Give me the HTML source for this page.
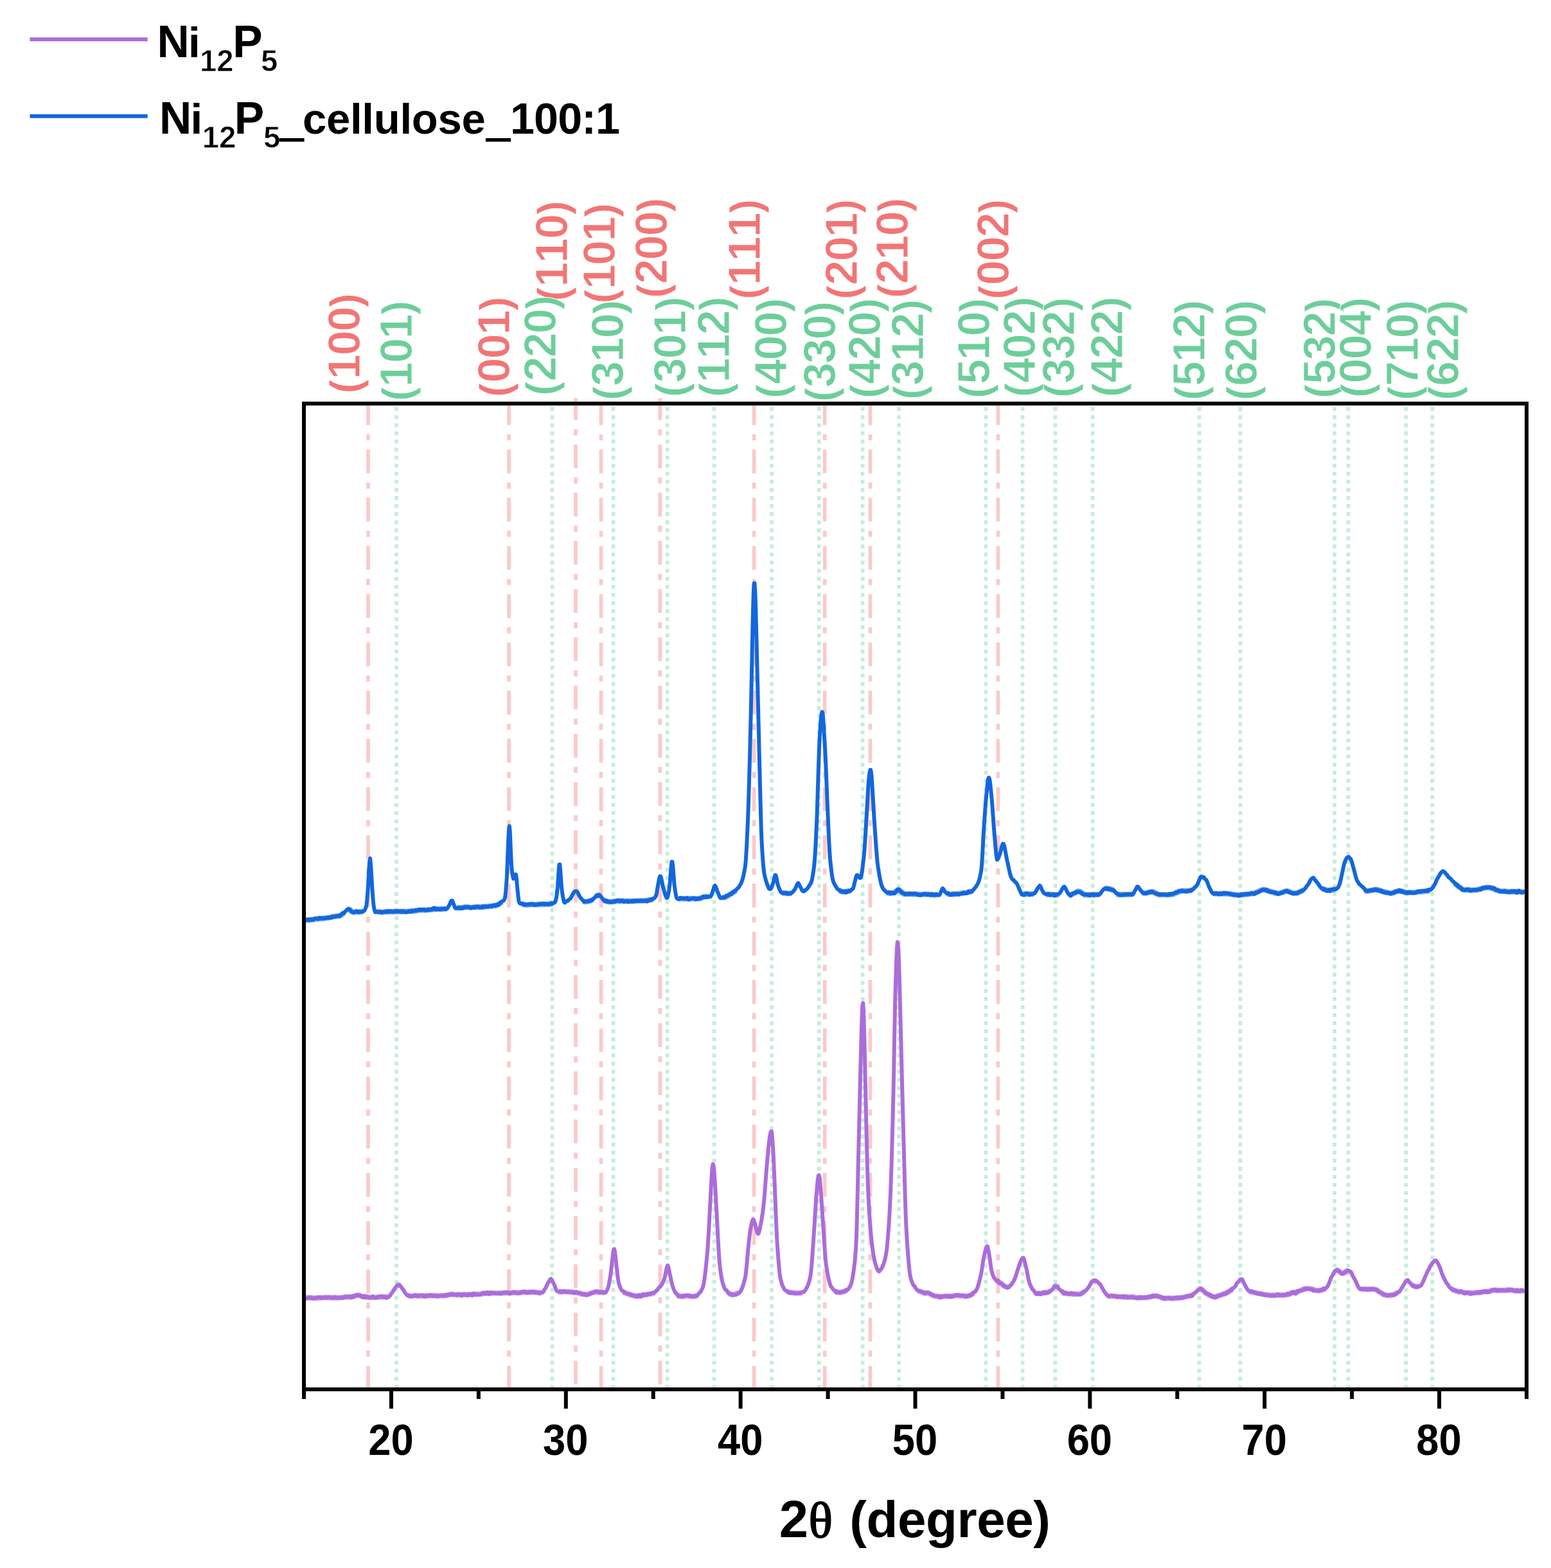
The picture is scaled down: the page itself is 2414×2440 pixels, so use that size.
<!DOCTYPE html>
<html lang="en">
<head>
<meta charset="utf-8">
<title>XRD patterns</title>
<style>
html,body{margin:0;padding:0;background:#fff;}
body{width:2414px;height:2440px;overflow:hidden;}
svg{display:block;}
text{font-family:"Liberation Sans",Arial,Helvetica,sans-serif;font-weight:700;font-size:67px;fill:#000;font-kerning:none;}
.tk{text-anchor:middle;}
.sub{font-size:47.3px;stroke:#fff;stroke-width:0.8px;}
.cap{font-size:69.5px;}
.dg{font-size:68.2px;letter-spacing:-0.85px;}
.lc{letter-spacing:-0.26px;}
.us{font-size:63px;stroke:#000;stroke-width:3px;}
.hr{fill:#f27575;stroke:#fff;stroke-width:1px;}
.hg{fill:#6dce9a;stroke:#fff;stroke-width:1px;}
.hd{font-size:69.7px;letter-spacing:-1.5px;}
.ttl{font-size:80px;}
.t2{font-size:81.4px;}
.tw{letter-spacing:-0.42px;}
.th{font-family:"Liberation Serif","DejaVu Serif",serif;font-size:78px;font-weight:400;stroke:#000;stroke-width:1.8px;}
.rv{stroke:#fcc9c9;stroke-width:5.7;fill:none;stroke-dasharray:37 14.4 9.45 14.2;}
.gv{stroke:#c3eddb;stroke-width:5.7;fill:none;stroke-dasharray:6 6.575;}
.cv{fill:none;stroke-linejoin:round;stroke-linecap:butt;}
</style>
</head>
<body>
<svg width="2414" height="2440" viewBox="0 0 2414 2440">
<rect x="0" y="0" width="2414" height="2440" fill="#fff"/>
<g id="fig">
<g id="ref-red">
<line class="rv" x1="573.0" y1="625.0" x2="573.0" y2="2159.5" stroke-dashoffset="0.5"/>
<line class="rv" x1="792.0" y1="625.0" x2="792.0" y2="2159.5" stroke-dashoffset="0.5"/>
<line class="rv" x1="896.0" y1="619.4" x2="896.0" y2="2154.2" stroke-dashoffset="2.8"/>
<line class="rv" x1="935.5" y1="625.0" x2="935.5" y2="2159.5" stroke-dashoffset="0.5"/>
<line class="rv" x1="1027.4" y1="619.4" x2="1027.4" y2="2154.2" stroke-dashoffset="2.8"/>
<line class="rv" x1="1173.6" y1="625.0" x2="1173.6" y2="2159.5" stroke-dashoffset="0.5"/>
<line class="rv" x1="1283.6" y1="625.0" x2="1283.6" y2="2159.5" stroke-dashoffset="0.5"/>
<line class="rv" x1="1354.4" y1="625.0" x2="1354.4" y2="2159.5" stroke-dashoffset="0.5"/>
<line class="rv" x1="1553.4" y1="625.0" x2="1553.4" y2="2159.5" stroke-dashoffset="0.5"/>
</g>
<g id="ref-green">
<line class="gv" x1="617.0" y1="633.6" x2="617.0" y2="2159.5"/>
<line class="gv" x1="859.4" y1="633.6" x2="859.4" y2="2159.5"/>
<line class="gv" x1="954.6" y1="633.6" x2="954.6" y2="2159.5"/>
<line class="gv" x1="1038.7" y1="633.6" x2="1038.7" y2="2159.5"/>
<line class="gv" x1="1111.6" y1="633.6" x2="1111.6" y2="2159.5"/>
<line class="gv" x1="1201.2" y1="633.6" x2="1201.2" y2="2159.5"/>
<line class="gv" x1="1274.8" y1="633.6" x2="1274.8" y2="2159.5"/>
<line class="gv" x1="1342.6" y1="633.6" x2="1342.6" y2="2159.5"/>
<line class="gv" x1="1399.1" y1="633.6" x2="1399.1" y2="2159.5"/>
<line class="gv" x1="1534.3" y1="633.6" x2="1534.3" y2="2159.5"/>
<line class="gv" x1="1591.6" y1="633.6" x2="1591.6" y2="2159.5"/>
<line class="gv" x1="1642.5" y1="633.6" x2="1642.5" y2="2159.5"/>
<line class="gv" x1="1700.6" y1="633.6" x2="1700.6" y2="2159.5"/>
<line class="gv" x1="1866.6" y1="633.6" x2="1866.6" y2="2159.5"/>
<line class="gv" x1="1930.4" y1="633.6" x2="1930.4" y2="2159.5"/>
<line class="gv" x1="2077.1" y1="633.6" x2="2077.1" y2="2159.5"/>
<line class="gv" x1="2098.4" y1="633.6" x2="2098.4" y2="2159.5"/>
<line class="gv" x1="2188.3" y1="633.6" x2="2188.3" y2="2159.5"/>
<line class="gv" x1="2229.3" y1="633.6" x2="2229.3" y2="2159.5"/>
</g>
<g id="curves">
<path class="cv" stroke="#ab6cdb" stroke-width="8.6" stroke-opacity="0.55" stroke-linecap="round" d="M476.0,2019.4 478.4,2019.5 480.8,2019.5 483.2,2019.4 485.6,2019.6 488.0,2019.9 490.4,2020.0 492.8,2020.0 495.2,2019.9 497.6,2019.7 500.0,2019.5 502.4,2019.3 504.8,2019.0 507.2,2019.0 509.6,2019.3 512.0,2019.5 514.4,2019.3 516.8,2019.1 519.2,2019.1 521.6,2019.4 524.0,2019.5 526.4,2019.5 528.8,2019.4 531.2,2019.2 533.6,2018.8 536.0,2018.3 538.4,2018.1 540.8,2018.2 543.2,2018.3 545.6,2018.1 548.0,2017.8 550.4,2017.2 552.8,2016.4 555.2,2015.7 557.6,2015.5 560.0,2016.1 562.4,2017.1 564.8,2017.6 567.2,2017.6 569.6,2017.9 572.0,2018.4 574.4,2018.7 576.8,2018.8 579.2,2018.8 581.6,2018.8 584.0,2018.8 586.4,2018.7 588.8,2018.6 591.2,2018.4 593.6,2018.2 596.0,2018.1 598.4,2018.1 600.8,2018.1 603.2,2018.0 605.6,2017.3 M617.6,2001.2 620.0,1999.6 622.4,2000.5 M634.4,2015.9 636.8,2016.4 639.2,2016.7 641.6,2016.7 644.0,2016.3 646.4,2016.1 648.8,2016.1 651.2,2016.4 653.6,2016.6 656.0,2016.7 658.4,2016.8 660.8,2016.8 663.2,2016.7 665.6,2016.5 668.0,2016.3 670.4,2016.1 672.8,2016.0 675.2,2015.9 677.6,2016.0 680.0,2016.2 682.4,2016.3 684.8,2016.2 687.2,2016.2 689.6,2016.3 692.0,2016.3 694.4,2015.9 696.8,2015.2 699.2,2014.5 701.6,2014.1 704.0,2014.1 706.4,2014.5 708.8,2014.8 711.2,2014.9 713.6,2014.9 716.0,2014.8 718.4,2014.8 720.8,2014.8 723.2,2014.8 725.6,2014.7 728.0,2014.6 730.4,2014.5 732.8,2014.4 735.2,2014.2 737.6,2013.9 740.0,2013.8 742.4,2013.8 744.8,2013.8 747.2,2013.7 749.6,2013.4 752.0,2013.0 754.4,2012.7 756.8,2012.5 759.2,2012.3 761.6,2012.3 764.0,2012.3 766.4,2012.2 768.8,2012.3 771.2,2012.3 773.6,2012.3 776.0,2012.3 778.4,2012.3 780.8,2012.2 783.2,2012.0 785.6,2011.8 788.0,2011.9 790.4,2012.1 792.8,2012.1 795.2,2012.0 797.6,2011.6 800.0,2011.4 802.4,2011.4 804.8,2011.5 807.2,2011.6 809.6,2011.6 812.0,2011.3 814.4,2010.9 816.8,2010.8 819.2,2010.9 821.6,2010.9 824.0,2010.9 826.4,2010.9 828.8,2010.8 831.2,2010.8 833.6,2010.9 836.0,2011.2 838.4,2011.5 840.8,2011.8 843.2,2011.7 M869.6,2009.9 872.0,2010.1 874.4,2010.1 876.8,2010.1 879.2,2010.0 881.6,2010.0 884.0,2010.1 886.4,2010.3 888.8,2010.6 891.2,2010.9 893.6,2011.1 896.0,2011.2 898.4,2011.6 900.8,2012.1 903.2,2012.8 905.6,2013.6 908.0,2014.1 910.4,2014.4 912.8,2014.5 915.2,2014.1 917.6,2013.2 920.0,2012.2 922.4,2011.6 924.8,2011.1 927.2,2010.7 929.6,2010.6 932.0,2010.7 934.4,2010.9 936.8,2011.1 939.2,2011.3 941.6,2011.4 M970.4,2010.2 972.8,2011.9 975.2,2012.9 977.6,2013.6 980.0,2014.3 982.4,2015.0 984.8,2015.6 987.2,2016.3 989.6,2016.8 992.0,2016.9 994.4,2016.7 996.8,2016.5 999.2,2016.0 1001.6,2015.4 1004.0,2014.8 1006.4,2014.4 1008.8,2014.0 1011.2,2013.7 1013.6,2013.3 1016.0,2012.7 1018.4,2011.4 M1054.4,2014.8 1056.8,2016.6 1059.2,2017.2 1061.6,2017.1 1064.0,2016.9 1066.4,2016.7 1068.8,2016.4 1071.2,2016.5 1073.6,2016.9 1076.0,2017.3 1078.4,2017.5 1080.8,2017.3 1083.2,2016.8 1085.6,2015.4 M1133.6,2011.1 1136.0,2013.3 1138.4,2014.7 1140.8,2014.8 1143.2,2014.2 1145.6,2013.3 1148.0,2012.3 1150.4,2011.0 M1224.8,2009.6 1227.2,2010.5 1229.6,2011.1 1232.0,2011.5 1234.4,2011.7 1236.8,2011.8 1239.2,2012.0 1241.6,2012.0 1244.0,2011.9 1246.4,2011.9 1248.8,2011.7 M1299.2,2008.4 1301.6,2010.1 1304.0,2011.0 1306.4,2011.3 1308.8,2011.0 1311.2,2010.4 1313.6,2009.6 1316.0,2008.7 1318.4,2007.5 M1428.8,2008.3 1431.2,2009.4 1433.6,2010.4 1436.0,2011.3 1438.4,2012.0 1440.8,2012.2 1443.2,2012.3 1445.6,2012.7 1448.0,2013.7 1450.4,2014.9 1452.8,2016.0 1455.2,2016.8 1457.6,2017.4 1460.0,2017.7 1462.4,2017.7 1464.8,2017.6 1467.2,2017.5 1469.6,2017.3 1472.0,2017.1 1474.4,2017.1 1476.8,2017.1 1479.2,2016.9 1481.6,2016.7 1484.0,2016.5 1486.4,2016.2 1488.8,2016.1 1491.2,2016.1 1493.6,2016.1 1496.0,2016.3 1498.4,2016.6 1500.8,2017.0 1503.2,2017.1 1505.6,2016.8 1508.0,2016.4 1510.4,2015.6 1512.8,2014.1 1515.2,2012.3 M1551.2,1992.5 1553.6,1994.1 1556.0,1995.9 1558.4,1997.7 1560.8,1999.6 1563.2,2001.2 1565.6,2002.4 1568.0,2002.9 1570.4,2002.7 M1611.2,2011.9 1613.6,2012.6 1616.0,2012.7 1618.4,2012.6 1620.8,2012.3 1623.2,2011.9 1625.6,2011.6 1628.0,2011.7 1630.4,2011.3 1632.8,2010.0 1635.2,2008.2 M1640.0,2003.5 1642.4,2001.4 1644.8,2001.6 1647.2,2004.0 M1652.0,2009.0 1654.4,2010.9 1656.8,2012.2 1659.2,2012.6 1661.6,2012.9 1664.0,2013.1 1666.4,2013.2 1668.8,2013.4 1671.2,2013.6 1673.6,2013.7 1676.0,2013.7 1678.4,2013.8 1680.8,2013.5 1683.2,2012.8 1685.6,2011.4 1688.0,2009.5 M1702.4,1992.7 1704.8,1993.7 1707.2,1994.9 M1724.0,2016.4 1726.4,2017.1 1728.8,2017.1 1731.2,2017.0 1733.6,2017.0 1736.0,2017.2 1738.4,2017.6 1740.8,2017.8 1743.2,2017.9 1745.6,2018.0 1748.0,2018.0 1750.4,2018.2 1752.8,2018.4 1755.2,2018.5 1757.6,2018.5 1760.0,2018.4 1762.4,2018.4 1764.8,2018.5 1767.2,2018.8 1769.6,2019.2 1772.0,2019.4 1774.4,2019.4 1776.8,2019.2 1779.2,2019.2 1781.6,2019.2 1784.0,2019.3 1786.4,2019.0 1788.8,2018.4 1791.2,2017.7 1793.6,2017.1 1796.0,2016.8 1798.4,2016.5 1800.8,2016.7 1803.2,2017.4 1805.6,2018.4 1808.0,2019.4 1810.4,2020.3 1812.8,2020.8 1815.2,2020.6 1817.6,2020.3 1820.0,2020.1 1822.4,2020.2 1824.8,2020.4 1827.2,2020.5 1829.6,2020.2 1832.0,2019.9 1834.4,2019.7 1836.8,2019.5 1839.2,2019.1 1841.6,2018.5 1844.0,2018.1 1846.4,2017.7 1848.8,2017.3 1851.2,2016.7 1853.6,2016.0 1856.0,2014.9 1858.4,2013.1 M1865.6,2006.7 1868.0,2005.4 1870.4,2006.5 1872.8,2008.8 1875.2,2010.8 1877.6,2012.8 1880.0,2014.2 1882.4,2015.4 1884.8,2016.6 1887.2,2017.7 1889.6,2018.1 1892.0,2017.9 1894.4,2017.1 1896.8,2016.3 1899.2,2015.5 1901.6,2014.7 1904.0,2014.0 1906.4,2013.1 1908.8,2011.9 1911.2,2010.6 1913.6,2009.2 1916.0,2007.6 1918.4,2005.7 M1944.8,2009.3 1947.2,2010.2 1949.6,2010.9 1952.0,2011.5 1954.4,2012.1 1956.8,2012.5 1959.2,2012.8 1961.6,2013.1 1964.0,2013.6 1966.4,2014.1 1968.8,2014.4 1971.2,2014.7 1973.6,2015.2 1976.0,2015.7 1978.4,2015.9 1980.8,2015.6 1983.2,2015.3 1985.6,2015.1 1988.0,2015.1 1990.4,2015.1 1992.8,2015.1 1995.2,2015.2 1997.6,2015.3 2000.0,2015.1 2002.4,2014.7 2004.8,2014.0 2007.2,2013.2 2009.6,2012.4 2012.0,2012.1 2014.4,2011.8 2016.8,2011.3 2019.2,2010.4 2021.6,2009.4 2024.0,2008.4 2026.4,2007.2 2028.8,2006.1 2031.2,2005.4 2033.6,2005.1 2036.0,2005.1 2038.4,2005.3 2040.8,2005.8 2043.2,2006.4 2045.6,2007.2 2048.0,2007.9 2050.4,2008.3 2052.8,2008.2 2055.2,2007.8 2057.6,2007.2 2060.0,2006.4 2062.4,2005.3 M2079.2,1976.6 2081.6,1976.8 2084.0,1978.3 2086.4,1980.1 2088.8,1981.3 2091.2,1981.0 2093.6,1979.5 2096.0,1977.8 2098.4,1977.0 M2117.6,2006.0 2120.0,2006.2 2122.4,2006.3 2124.8,2006.2 2127.2,2006.1 2129.6,2006.1 2132.0,2006.2 2134.4,2006.1 2136.8,2006.0 2139.2,2006.3 2141.6,2007.0 2144.0,2008.3 2146.4,2010.0 2148.8,2011.7 2151.2,2013.1 2153.6,2014.3 2156.0,2015.1 2158.4,2015.6 2160.8,2015.8 2163.2,2015.7 2165.6,2015.4 2168.0,2014.8 2170.4,2014.0 2172.8,2012.7 2175.2,2011.2 M2196.8,1998.5 2199.2,2000.5 2201.6,2001.5 2204.0,2001.8 2206.4,2002.0 2208.8,2001.9 M2259.2,2005.5 2261.6,2007.0 2264.0,2008.1 2266.4,2008.9 2268.8,2009.5 2271.2,2009.9 2273.6,2010.4 2276.0,2010.8 2278.4,2011.3 2280.8,2011.6 2283.2,2011.7 2285.6,2011.8 2288.0,2011.7 2290.4,2011.8 2292.8,2011.9 2295.2,2011.8 2297.6,2011.6 2300.0,2011.4 2302.4,2011.3 2304.8,2011.1 2307.2,2010.8 2309.6,2010.3 2312.0,2009.9 2314.4,2009.7 2316.8,2009.4 2319.2,2008.8 2321.6,2008.2 2324.0,2007.7 2326.4,2007.7 2328.8,2007.9 2331.2,2007.9 2333.6,2008.0 2336.0,2008.0 2338.4,2008.0 2340.8,2007.9 2343.2,2007.7 2345.6,2007.5 2348.0,2007.5 2350.4,2007.6 2352.8,2007.8 2355.2,2008.1 2357.6,2008.4 2360.0,2008.6 2362.4,2008.7 2364.8,2008.7 2367.2,2008.6 2369.6,2008.6 2372.0,2008.6"/>
<path id="c-ni12p5" class="cv" stroke="#ab6cdb" stroke-width="6" d="M476.0,2019.8 476.8,2020.4 477.6,2020.3 478.4,2019.5 479.2,2019.1 480.0,2019.3 480.8,2019.6 481.6,2019.7 482.4,2019.3 483.2,2019.1 484.0,2019.8 484.8,2020.0 485.6,2019.9 486.4,2019.7 487.2,2019.7 488.0,2020.2 488.8,2020.4 489.6,2020.1 490.4,2020.1 491.2,2020.2 492.0,2019.4 492.8,2019.2 493.6,2019.6 494.4,2019.2 495.2,2018.6 496.0,2018.8 496.8,2019.0 497.6,2018.7 498.4,2018.7 499.2,2019.5 500.0,2019.9 500.8,2019.4 501.6,2019.1 502.4,2019.5 503.2,2019.6 504.0,2019.3 504.8,2019.5 505.6,2019.6 506.4,2018.9 507.2,2018.6 508.0,2019.1 508.8,2019.6 509.6,2019.6 510.4,2018.8 511.2,2018.6 512.0,2018.5 512.8,2018.4 513.6,2019.2 514.4,2019.4 515.2,2019.3 516.0,2019.9 516.8,2020.0 517.6,2019.7 518.4,2019.7 519.2,2019.4 520.0,2018.9 520.8,2019.4 521.6,2019.4 522.4,2018.8 523.2,2019.2 524.0,2019.7 524.8,2019.8 525.6,2019.5 526.4,2019.4 527.2,2019.4 528.0,2019.2 528.8,2019.4 529.6,2019.5 530.4,2019.4 531.2,2019.3 532.0,2019.7 532.8,2019.5 533.6,2019.0 534.4,2019.2 535.2,2019.7 536.0,2019.1 536.8,2018.1 537.6,2018.3 538.4,2018.5 539.2,2017.9 540.0,2017.9 540.8,2018.2 541.6,2018.0 542.4,2018.5 543.2,2018.7 544.0,2017.7 544.8,2017.4 545.6,2017.5 546.4,2018.2 547.2,2019.2 548.0,2018.7 548.8,2017.2 549.6,2016.9 550.4,2017.7 551.2,2017.9 552.0,2017.0 552.8,2016.2 553.6,2016.1 554.4,2015.9 555.2,2015.4 556.0,2015.2 556.8,2015.6 557.6,2015.7 558.4,2015.6 559.2,2015.4 560.0,2015.4 560.8,2016.2 561.6,2017.2 562.4,2017.0 563.2,2017.0 564.0,2018.0 564.8,2018.7 565.6,2018.8 566.4,2018.0 567.2,2017.0 568.0,2017.2 568.8,2018.7 569.6,2019.3 570.4,2018.1 571.2,2017.9 572.0,2018.4 572.8,2018.2 573.6,2018.3 574.4,2018.6 575.2,2019.1 576.0,2019.4 576.8,2019.3 577.6,2019.1 578.4,2018.9 579.2,2018.3 580.0,2017.4 580.8,2017.7 581.6,2018.7 582.4,2018.8 583.2,2019.0 584.0,2019.5 584.8,2019.7 585.6,2019.7 586.4,2019.4 587.2,2018.7 588.0,2018.1 588.8,2018.0 589.6,2017.8 590.4,2017.7 591.2,2017.8 592.0,2018.2 592.8,2018.3 593.6,2017.6 594.4,2017.1 595.2,2017.7 596.0,2018.5 596.8,2018.8 597.6,2018.5 598.4,2017.7 599.2,2018.1 600.0,2019.1 600.8,2019.4 601.6,2019.6 602.4,2019.3 603.2,2018.2 604.0,2018.1 604.8,2018.2 605.6,2017.6 606.4,2016.8 607.2,2015.8 608.0,2014.5 608.8,2013.2 609.6,2012.2 610.4,2011.3 611.2,2010.1 612.0,2008.8 612.8,2007.5 613.6,2006.2 614.4,2004.9 615.2,2003.9 616.0,2002.9 616.8,2001.8 617.6,2000.9 618.4,2000.3 619.2,2000.0 620.0,1999.8 620.8,1999.5 621.6,1999.6 622.4,2000.4 623.2,2001.1 624.0,2002.0 624.8,2003.2 625.6,2004.3 626.4,2005.3 627.2,2006.3 628.0,2007.4 628.8,2008.9 629.6,2010.7 630.4,2011.8 631.2,2012.7 632.0,2013.7 632.8,2014.7 633.6,2015.7 634.4,2015.7 635.2,2016.0 636.0,2016.3 636.8,2015.9 637.6,2016.5 638.4,2017.3 639.2,2017.2 640.0,2017.2 640.8,2017.3 641.6,2017.0 642.4,2016.7 643.2,2016.6 644.0,2016.4 644.8,2016.1 645.6,2016.2 646.4,2015.8 647.2,2015.5 648.0,2016.4 648.8,2017.3 649.6,2017.0 650.4,2016.5 651.2,2016.5 652.0,2016.4 652.8,2016.4 653.6,2016.1 654.4,2015.6 655.2,2016.0 656.0,2016.1 656.8,2015.8 657.6,2015.5 658.4,2015.4 659.2,2016.2 660.0,2017.4 660.8,2017.8 661.6,2017.4 662.4,2017.2 663.2,2016.3 664.0,2015.7 664.8,2016.3 665.6,2016.6 666.4,2016.4 667.2,2016.5 668.0,2016.4 668.8,2015.6 669.6,2015.2 670.4,2015.6 671.2,2015.8 672.0,2016.0 672.8,2016.8 673.6,2016.9 674.4,2016.3 675.2,2016.3 676.0,2016.7 676.8,2016.8 677.6,2016.6 678.4,2016.3 679.2,2016.9 680.0,2017.6 680.8,2017.0 681.6,2016.3 682.4,2016.7 683.2,2017.1 684.0,2016.6 684.8,2016.4 685.6,2016.5 686.4,2016.1 687.2,2016.2 688.0,2016.1 688.8,2016.0 689.6,2016.7 690.4,2016.5 691.2,2016.0 692.0,2016.2 692.8,2015.7 693.6,2014.9 694.4,2015.2 695.2,2015.8 696.0,2015.8 696.8,2015.4 697.6,2015.1 698.4,2014.9 699.2,2014.8 700.0,2014.9 700.8,2014.6 701.6,2014.4 702.4,2014.1 703.2,2013.5 704.0,2013.9 704.8,2014.9 705.6,2014.8 706.4,2014.5 707.2,2014.6 708.0,2014.6 708.8,2014.7 709.6,2014.7 710.4,2014.5 711.2,2014.6 712.0,2015.1 712.8,2014.6 713.6,2013.9 714.4,2014.3 715.2,2014.6 716.0,2014.5 716.8,2014.4 717.6,2015.6 718.4,2016.3 719.2,2015.1 720.0,2014.5 720.8,2014.7 721.6,2014.3 722.4,2013.6 723.2,2013.9 724.0,2014.7 724.8,2015.2 725.6,2015.3 726.4,2014.8 727.2,2015.3 728.0,2015.9 728.8,2014.7 729.6,2013.9 730.4,2014.3 731.2,2014.7 732.0,2014.9 732.8,2014.5 733.6,2014.0 734.4,2014.8 735.2,2015.8 736.0,2014.7 736.8,2012.9 737.6,2012.9 738.4,2013.5 739.2,2013.9 740.0,2014.3 740.8,2014.9 741.6,2014.9 742.4,2014.5 743.2,2014.1 744.0,2013.9 744.8,2014.3 745.6,2014.7 746.4,2014.3 747.2,2014.0 748.0,2014.2 748.8,2013.9 749.6,2013.2 750.4,2012.7 751.2,2012.5 752.0,2011.9 752.8,2011.6 753.6,2012.7 754.4,2013.2 755.2,2012.9 756.0,2013.1 756.8,2013.0 757.6,2012.1 758.4,2011.2 759.2,2011.7 760.0,2012.9 760.8,2013.7 761.6,2013.9 762.4,2013.1 763.2,2011.5 764.0,2011.0 764.8,2012.0 765.6,2012.6 766.4,2012.7 767.2,2012.5 768.0,2012.0 768.8,2011.7 769.6,2012.0 770.4,2012.3 771.2,2012.5 772.0,2012.6 772.8,2012.5 773.6,2012.5 774.4,2012.6 775.2,2012.8 776.0,2012.6 776.8,2012.0 777.6,2012.3 778.4,2013.0 779.2,2012.9 780.0,2012.8 780.8,2012.5 781.6,2011.8 782.4,2011.6 783.2,2011.9 784.0,2012.2 784.8,2011.9 785.6,2011.2 786.4,2011.2 787.2,2012.0 788.0,2012.1 788.8,2011.3 789.6,2011.5 790.4,2012.0 791.2,2012.1 792.0,2012.1 792.8,2012.6 793.6,2013.0 794.4,2012.7 795.2,2012.3 796.0,2011.9 796.8,2011.6 797.6,2011.6 798.4,2011.3 799.2,2011.0 800.0,2011.1 800.8,2011.4 801.6,2011.7 802.4,2011.4 803.2,2011.5 804.0,2012.3 804.8,2012.6 805.6,2012.5 806.4,2012.2 807.2,2011.6 808.0,2011.3 808.8,2011.6 809.6,2012.0 810.4,2011.4 811.2,2010.7 812.0,2010.5 812.8,2010.5 813.6,2010.5 814.4,2010.1 815.2,2010.0 816.0,2010.6 816.8,2010.4 817.6,2010.2 818.4,2011.3 819.2,2011.7 820.0,2011.1 820.8,2011.3 821.6,2010.9 822.4,2010.5 823.2,2010.4 824.0,2010.5 824.8,2011.3 825.6,2011.3 826.4,2010.6 827.2,2010.2 828.0,2010.0 828.8,2010.5 829.6,2010.7 830.4,2010.0 831.2,2010.2 832.0,2011.0 832.8,2011.7 833.6,2011.7 834.4,2010.9 835.2,2010.7 836.0,2011.1 836.8,2011.1 837.6,2011.4 838.4,2012.3 839.2,2012.7 840.0,2012.2 840.8,2011.9 841.6,2011.6 842.4,2011.1 843.2,2011.0 844.0,2011.2 844.8,2011.2 845.6,2010.1 846.4,2008.6 847.2,2007.1 848.0,2005.9 848.8,2005.2 849.6,2003.7 850.4,2001.7 851.2,2000.0 852.0,1998.2 852.8,1996.5 853.6,1995.4 854.4,1994.1 855.2,1992.6 856.0,1991.4 856.8,1990.6 857.6,1990.0 858.4,1991.2 859.2,1992.6 860.0,1994.1 860.8,1995.7 861.6,1997.0 862.4,1998.6 863.2,2000.7 864.0,2002.9 864.8,2005.0 865.6,2006.8 866.4,2008.4 867.2,2009.4 868.0,2009.6 868.8,2009.5 869.6,2009.9 870.4,2010.5 871.2,2010.3 872.0,2009.6 872.8,2009.7 873.6,2010.6 874.4,2010.7 875.2,2010.2 876.0,2009.9 876.8,2009.4 877.6,2009.1 878.4,2009.5 879.2,2010.1 880.0,2010.1 880.8,2009.9 881.6,2010.4 882.4,2010.6 883.2,2010.6 884.0,2010.6 884.8,2010.2 885.6,2010.2 886.4,2010.5 887.2,2010.7 888.0,2010.6 888.8,2010.5 889.6,2010.9 890.4,2010.7 891.2,2010.3 892.0,2010.4 892.8,2011.3 893.6,2012.1 894.4,2012.1 895.2,2011.4 896.0,2010.5 896.8,2010.5 897.6,2010.8 898.4,2011.3 899.2,2012.1 900.0,2012.3 900.8,2012.3 901.6,2012.3 902.4,2012.0 903.2,2012.0 904.0,2012.6 904.8,2013.4 905.6,2014.0 906.4,2014.4 907.2,2014.3 908.0,2013.5 908.8,2013.6 909.6,2013.9 910.4,2013.7 911.2,2014.1 912.0,2015.1 912.8,2015.5 913.6,2015.2 914.4,2014.5 915.2,2014.2 916.0,2014.2 916.8,2013.7 917.6,2013.6 918.4,2013.5 919.2,2012.5 920.0,2011.9 920.8,2012.0 921.6,2012.1 922.4,2012.0 923.2,2011.7 924.0,2011.1 924.8,2010.2 925.6,2010.1 926.4,2010.4 927.2,2009.9 928.0,2009.4 928.8,2009.5 929.6,2009.8 930.4,2010.1 931.2,2010.2 932.0,2011.0 932.8,2011.6 933.6,2011.5 934.4,2011.6 935.2,2011.2 936.0,2010.5 936.8,2010.5 937.6,2010.8 938.4,2011.1 939.2,2011.2 940.0,2011.8 940.8,2011.5 941.6,2010.8 942.4,2011.3 943.2,2010.7 944.0,2009.2 944.8,2007.6 945.6,2005.8 946.4,2003.9 947.2,2001.0 948.0,1997.1 948.8,1992.6 949.6,1987.7 950.4,1982.5 951.2,1976.2 952.0,1969.3 952.8,1962.4 953.6,1955.1 954.4,1948.7 955.2,1944.5 956.0,1943.7 956.8,1946.4 957.6,1952.1 958.4,1959.3 959.2,1966.8 960.0,1974.1 960.8,1981.3 961.6,1987.8 962.4,1993.2 963.2,1997.0 964.0,1999.6 964.8,2002.0 965.6,2003.9 966.4,2005.5 967.2,2007.1 968.0,2008.2 968.8,2008.7 969.6,2008.7 970.4,2009.4 971.2,2010.7 972.0,2011.2 972.8,2011.5 973.6,2011.7 974.4,2011.9 975.2,2012.6 976.0,2013.3 976.8,2013.3 977.6,2013.3 978.4,2014.0 979.2,2014.2 980.0,2013.9 980.8,2014.1 981.6,2014.8 982.4,2015.3 983.2,2015.5 984.0,2015.4 984.8,2015.5 985.6,2015.8 986.4,2016.2 987.2,2016.2 988.0,2016.1 988.8,2016.6 989.6,2017.5 990.4,2018.0 991.2,2017.3 992.0,2017.3 992.8,2017.1 993.6,2015.7 994.4,2015.1 995.2,2015.6 996.0,2016.8 996.8,2017.8 997.6,2017.5 998.4,2016.9 999.2,2015.6 1000.0,2014.0 1000.8,2014.1 1001.6,2015.4 1002.4,2015.2 1003.2,2014.7 1004.0,2014.6 1004.8,2014.4 1005.6,2015.0 1006.4,2015.2 1007.2,2014.0 1008.0,2013.6 1008.8,2013.9 1009.6,2013.8 1010.4,2013.7 1011.2,2013.5 1012.0,2013.7 1012.8,2013.6 1013.6,2012.9 1014.4,2012.6 1015.2,2012.4 1016.0,2011.9 1016.8,2011.8 1017.6,2012.0 1018.4,2011.4 1019.2,2010.8 1020.0,2010.4 1020.8,2009.2 1021.6,2008.2 1022.4,2008.0 1023.2,2007.4 1024.0,2005.8 1024.8,2004.6 1025.6,2003.9 1026.4,2003.0 1027.2,2002.4 1028.0,2001.9 1028.8,2000.7 1029.6,1999.3 1030.4,1997.9 1031.2,1996.5 1032.0,1995.0 1032.8,1993.1 1033.6,1991.0 1034.4,1988.8 1035.2,1985.4 1036.0,1981.2 1036.8,1977.0 1037.6,1973.3 1038.4,1970.6 1039.2,1969.2 1040.0,1970.7 1040.8,1973.8 1041.6,1977.9 1042.4,1982.2 1043.2,1985.8 1044.0,1989.2 1044.8,1992.8 1045.6,1996.3 1046.4,1999.6 1047.2,2002.2 1048.0,2004.4 1048.8,2006.6 1049.6,2008.4 1050.4,2010.2 1051.2,2011.6 1052.0,2012.1 1052.8,2012.7 1053.6,2013.9 1054.4,2015.2 1055.2,2015.9 1056.0,2016.5 1056.8,2017.4 1057.6,2017.6 1058.4,2017.4 1059.2,2017.7 1060.0,2017.5 1060.8,2016.8 1061.6,2017.2 1062.4,2018.1 1063.2,2017.5 1064.0,2016.3 1064.8,2016.4 1065.6,2016.7 1066.4,2016.4 1067.2,2015.9 1068.0,2015.9 1068.8,2016.3 1069.6,2016.1 1070.4,2015.9 1071.2,2015.9 1072.0,2016.3 1072.8,2017.0 1073.6,2017.1 1074.4,2016.6 1075.2,2016.4 1076.0,2017.1 1076.8,2017.8 1077.6,2017.8 1078.4,2017.5 1079.2,2017.3 1080.0,2017.2 1080.8,2016.8 1081.6,2016.7 1082.4,2017.2 1083.2,2016.6 1084.0,2016.2 1084.8,2016.3 1085.6,2015.6 1086.4,2014.5 1087.2,2013.3 1088.0,2012.3 1088.8,2011.9 1089.6,2011.2 1090.4,2010.0 1091.2,2008.8 1092.0,2007.2 1092.8,2005.6 1093.6,2004.0 1094.4,2001.6 1095.2,1998.0 1096.0,1993.3 1096.8,1987.7 1097.6,1981.4 1098.4,1974.3 1099.2,1966.7 1100.0,1958.6 1100.8,1950.1 1101.6,1939.6 1102.4,1927.2 1103.2,1913.5 1104.0,1898.8 1104.8,1883.7 1105.6,1868.7 1106.4,1852.7 1107.2,1837.9 1108.0,1825.0 1108.8,1815.7 1109.6,1811.6 1110.4,1813.1 1111.2,1819.3 1112.0,1829.0 1112.8,1840.8 1113.6,1854.4 1114.4,1868.8 1115.2,1883.6 1116.0,1898.1 1116.8,1913.2 1117.6,1928.4 1118.4,1942.8 1119.2,1955.6 1120.0,1965.9 1120.8,1973.4 1121.6,1979.6 1122.4,1984.9 1123.2,1989.3 1124.0,1992.9 1124.8,1996.1 1125.6,1999.0 1126.4,2001.4 1127.2,2003.5 1128.0,2005.3 1128.8,2006.6 1129.6,2007.5 1130.4,2007.6 1131.2,2007.8 1132.0,2009.5 1132.8,2011.3 1133.6,2011.8 1134.4,2012.2 1135.2,2013.1 1136.0,2013.8 1136.8,2014.1 1137.6,2014.2 1138.4,2014.6 1139.2,2014.8 1140.0,2014.4 1140.8,2014.1 1141.6,2014.7 1142.4,2015.1 1143.2,2014.8 1144.0,2014.4 1144.8,2014.6 1145.6,2014.7 1146.4,2013.9 1147.2,2013.6 1148.0,2013.4 1148.8,2012.4 1149.6,2011.8 1150.4,2011.8 1151.2,2011.3 1152.0,2010.2 1152.8,2009.0 1153.6,2007.5 1154.4,2006.0 1155.2,2004.2 1156.0,2002.0 1156.8,1999.4 1157.6,1996.7 1158.4,1993.7 1159.2,1990.5 1160.0,1987.0 1160.8,1982.3 1161.6,1975.2 1162.4,1966.6 1163.2,1957.3 1164.0,1948.1 1164.8,1939.7 1165.6,1932.5 1166.4,1925.2 1167.2,1918.4 1168.0,1912.7 1168.8,1908.6 1169.6,1904.9 1170.4,1901.6 1171.2,1899.0 1172.0,1897.3 1172.8,1897.6 1173.6,1899.5 1174.4,1902.1 1175.2,1905.2 1176.0,1908.0 1176.8,1910.9 1177.6,1914.1 1178.4,1917.2 1179.2,1919.5 1180.0,1920.0 1180.8,1919.2 1181.6,1916.7 1182.4,1913.1 1183.2,1909.0 1184.0,1905.0 1184.8,1901.0 1185.6,1896.5 1186.4,1891.5 1187.2,1885.9 1188.0,1879.7 1188.8,1872.6 1189.6,1863.9 1190.4,1853.9 1191.2,1843.3 1192.0,1832.6 1192.8,1822.4 1193.6,1812.8 1194.4,1803.3 1195.2,1794.5 1196.0,1786.1 1196.8,1778.5 1197.6,1772.1 1198.4,1766.6 1199.2,1763.2 1200.0,1760.7 1200.8,1760.5 1201.6,1765.5 1202.4,1776.4 1203.2,1787.9 1204.0,1803.3 1204.8,1821.1 1205.6,1839.8 1206.4,1859.6 1207.2,1880.2 1208.0,1900.4 1208.8,1918.8 1209.6,1933.8 1210.4,1945.5 1211.2,1956.3 1212.0,1966.2 1212.8,1974.9 1213.6,1982.1 1214.4,1987.8 1215.2,1991.7 1216.0,1994.8 1216.8,1997.6 1217.6,1999.9 1218.4,2001.7 1219.2,2003.2 1220.0,2004.8 1220.8,2006.3 1221.6,2007.1 1222.4,2007.7 1223.2,2008.4 1224.0,2008.9 1224.8,2009.2 1225.6,2010.1 1226.4,2010.4 1227.2,2010.7 1228.0,2011.5 1228.8,2011.9 1229.6,2012.0 1230.4,2012.2 1231.2,2011.7 1232.0,2011.0 1232.8,2011.3 1233.6,2011.8 1234.4,2011.6 1235.2,2011.7 1236.0,2012.3 1236.8,2013.0 1237.6,2013.1 1238.4,2012.7 1239.2,2012.4 1240.0,2012.6 1240.8,2012.5 1241.6,2012.4 1242.4,2012.8 1243.2,2012.4 1244.0,2012.0 1244.8,2012.3 1245.6,2012.2 1246.4,2011.7 1247.2,2011.3 1248.0,2011.3 1248.8,2011.1 1249.6,2010.3 1250.4,2010.3 1251.2,2010.4 1252.0,2009.5 1252.8,2008.3 1253.6,2007.3 1254.4,2006.0 1255.2,2004.5 1256.0,2003.0 1256.8,2001.6 1257.6,1999.8 1258.4,1997.6 1259.2,1995.0 1260.0,1991.8 1260.8,1988.4 1261.6,1984.3 1262.4,1978.0 1263.2,1969.7 1264.0,1959.8 1264.8,1948.7 1265.6,1936.8 1266.4,1924.6 1267.2,1912.5 1268.0,1900.7 1268.8,1887.6 1269.6,1874.2 1270.4,1862.7 1271.2,1852.9 1272.0,1843.5 1272.8,1835.5 1273.6,1830.1 1274.4,1828.7 1275.2,1830.1 1276.0,1835.4 1276.8,1844.0 1277.6,1854.6 1278.4,1865.8 1279.2,1877.4 1280.0,1889.2 1280.8,1900.9 1281.6,1912.4 1282.4,1924.7 1283.2,1937.1 1284.0,1948.8 1284.8,1959.0 1285.6,1967.0 1286.4,1972.5 1287.2,1977.3 1288.0,1981.8 1288.8,1985.8 1289.6,1989.6 1290.4,1993.1 1291.2,1996.0 1292.0,1998.5 1292.8,2000.8 1293.6,2002.6 1294.4,2003.2 1295.2,2003.7 1296.0,2005.3 1296.8,2006.6 1297.6,2007.3 1298.4,2007.9 1299.2,2008.1 1300.0,2008.6 1300.8,2010.2 1301.6,2011.3 1302.4,2011.3 1303.2,2010.6 1304.0,2010.1 1304.8,2010.3 1305.6,2011.0 1306.4,2011.6 1307.2,2011.3 1308.0,2010.6 1308.8,2010.7 1309.6,2010.9 1310.4,2010.6 1311.2,2010.3 1312.0,2010.2 1312.8,2010.2 1313.6,2009.9 1314.4,2009.4 1315.2,2008.9 1316.0,2008.8 1316.8,2008.0 1317.6,2007.1 1318.4,2007.2 1319.2,2007.1 1320.0,2006.4 1320.8,2005.3 1321.6,2004.2 1322.4,2003.0 1323.2,2001.5 1324.0,1999.8 1324.8,1997.8 1325.6,1995.0 1326.4,1991.2 1327.2,1986.8 1328.0,1981.9 1328.8,1976.4 1329.6,1970.5 1330.4,1963.3 1331.2,1954.4 1332.0,1943.4 1332.8,1928.6 1333.6,1904.5 1334.4,1872.9 1335.2,1837.3 1336.0,1801.0 1336.8,1767.2 1337.6,1734.2 1338.4,1700.6 1339.2,1667.3 1340.0,1634.9 1340.8,1604.2 1341.6,1579.0 1342.4,1564.1 1343.2,1560.7 1344.0,1571.1 1344.8,1595.0 1345.6,1627.6 1346.4,1664.8 1347.2,1700.7 1348.0,1735.8 1348.8,1771.5 1349.6,1804.6 1350.4,1831.9 1351.2,1852.4 1352.0,1869.5 1352.8,1884.1 1353.6,1896.4 1354.4,1907.4 1355.2,1917.3 1356.0,1926.1 1356.8,1933.6 1357.6,1940.0 1358.4,1945.8 1359.2,1951.1 1360.0,1955.9 1360.8,1960.0 1361.6,1963.5 1362.4,1966.2 1363.2,1968.9 1364.0,1971.5 1364.8,1973.8 1365.6,1975.5 1366.4,1976.9 1367.2,1977.9 1368.0,1978.5 1368.8,1978.1 1369.6,1976.9 1370.4,1975.9 1371.2,1975.1 1372.0,1973.8 1372.8,1972.4 1373.6,1970.8 1374.4,1969.0 1375.2,1967.0 1376.0,1964.8 1376.8,1962.1 1377.6,1958.8 1378.4,1955.2 1379.2,1951.1 1380.0,1945.3 1380.8,1938.0 1381.6,1929.5 1382.4,1920.3 1383.2,1909.5 1384.0,1897.1 1384.8,1882.7 1385.6,1866.3 1386.4,1846.6 1387.2,1823.5 1388.0,1797.4 1388.8,1768.7 1389.6,1737.8 1390.4,1705.0 1391.2,1664.9 1392.0,1618.8 1392.8,1576.7 1393.6,1544.2 1394.4,1516.8 1395.2,1493.7 1396.0,1474.7 1396.8,1465.9 1397.6,1468.7 1398.4,1479.5 1399.2,1499.8 1400.0,1526.2 1400.8,1556.6 1401.6,1589.7 1402.4,1621.5 1403.2,1653.1 1404.0,1684.5 1404.8,1715.4 1405.6,1745.6 1406.4,1774.8 1407.2,1805.0 1408.0,1835.5 1408.8,1864.2 1409.6,1889.0 1410.4,1907.8 1411.2,1922.8 1412.0,1935.5 1412.8,1946.5 1413.6,1956.2 1414.4,1965.4 1415.2,1974.0 1416.0,1981.1 1416.8,1986.2 1417.6,1989.5 1418.4,1992.2 1419.2,1994.5 1420.0,1996.5 1420.8,1998.3 1421.6,1999.7 1422.4,2000.6 1423.2,2001.2 1424.0,2002.3 1424.8,2003.9 1425.6,2005.5 1426.4,2006.5 1427.2,2007.1 1428.0,2007.6 1428.8,2008.0 1429.6,2008.6 1430.4,2008.8 1431.2,2008.9 1432.0,2009.3 1432.8,2009.5 1433.6,2009.8 1434.4,2010.3 1435.2,2010.5 1436.0,2010.5 1436.8,2010.7 1437.6,2011.2 1438.4,2012.0 1439.2,2012.9 1440.0,2012.4 1440.8,2011.6 1441.6,2011.5 1442.4,2011.0 1443.2,2010.8 1444.0,2011.8 1444.8,2012.3 1445.6,2012.1 1446.4,2012.4 1447.2,2012.8 1448.0,2013.5 1448.8,2014.3 1449.6,2014.9 1450.4,2015.0 1451.2,2015.2 1452.0,2015.8 1452.8,2016.1 1453.6,2016.5 1454.4,2016.9 1455.2,2016.5 1456.0,2016.5 1456.8,2016.9 1457.6,2016.8 1458.4,2016.5 1459.2,2017.1 1460.0,2017.8 1460.8,2017.3 1461.6,2016.8 1462.4,2018.0 1463.2,2019.3 1464.0,2018.9 1464.8,2017.8 1465.6,2017.6 1466.4,2018.0 1467.2,2018.1 1468.0,2017.4 1468.8,2017.0 1469.6,2017.5 1470.4,2017.4 1471.2,2016.5 1472.0,2016.6 1472.8,2017.1 1473.6,2017.2 1474.4,2017.5 1475.2,2017.7 1476.0,2017.5 1476.8,2016.8 1477.6,2016.5 1478.4,2017.3 1479.2,2018.2 1480.0,2018.2 1480.8,2017.2 1481.6,2017.0 1482.4,2017.7 1483.2,2017.7 1484.0,2017.2 1484.8,2016.6 1485.6,2016.2 1486.4,2016.1 1487.2,2015.8 1488.0,2015.8 1488.8,2015.8 1489.6,2015.2 1490.4,2014.7 1491.2,2015.2 1492.0,2016.0 1492.8,2016.1 1493.6,2016.0 1494.4,2016.4 1495.2,2016.8 1496.0,2016.6 1496.8,2016.2 1497.6,2016.2 1498.4,2016.3 1499.2,2015.9 1500.0,2015.9 1500.8,2016.4 1501.6,2017.2 1502.4,2017.9 1503.2,2017.5 1504.0,2016.7 1504.8,2017.1 1505.6,2017.4 1506.4,2016.7 1507.2,2016.1 1508.0,2016.0 1508.8,2015.9 1509.6,2016.1 1510.4,2015.7 1511.2,2014.7 1512.0,2014.7 1512.8,2014.6 1513.6,2013.6 1514.4,2012.5 1515.2,2011.4 1516.0,2010.4 1516.8,2010.6 1517.6,2010.5 1518.4,2009.1 1519.2,2007.9 1520.0,2006.8 1520.8,2005.1 1521.6,2003.0 1522.4,2000.5 1523.2,1997.7 1524.0,1994.7 1524.8,1991.6 1525.6,1988.5 1526.4,1985.3 1527.2,1981.3 1528.0,1976.6 1528.8,1971.4 1529.6,1966.1 1530.4,1961.2 1531.2,1956.9 1532.0,1953.3 1532.8,1949.5 1533.6,1946.0 1534.4,1943.0 1535.2,1940.7 1536.0,1939.2 1536.8,1939.3 1537.6,1941.9 1538.4,1945.9 1539.2,1950.6 1540.0,1955.0 1540.8,1960.3 1541.6,1966.3 1542.4,1972.2 1543.2,1976.8 1544.0,1979.9 1544.8,1982.7 1545.6,1985.0 1546.4,1986.9 1547.2,1988.4 1548.0,1989.3 1548.8,1990.2 1549.6,1991.5 1550.4,1992.5 1551.2,1993.1 1552.0,1993.5 1552.8,1992.9 1553.6,1992.8 1554.4,1994.5 1555.2,1996.1 1556.0,1996.5 1556.8,1996.5 1557.6,1997.0 1558.4,1997.5 1559.2,1997.6 1560.0,1998.2 1560.8,1999.5 1561.6,2000.6 1562.4,2001.1 1563.2,2001.7 1564.0,2001.6 1564.8,2001.8 1565.6,2002.7 1566.4,2002.8 1567.2,2003.2 1568.0,2003.7 1568.8,2002.8 1569.6,2002.4 1570.4,2002.9 1571.2,2002.2 1572.0,2000.9 1572.8,2000.1 1573.6,1999.5 1574.4,1998.6 1575.2,1997.3 1576.0,1996.1 1576.8,1994.9 1577.6,1993.5 1578.4,1992.0 1579.2,1990.2 1580.0,1988.1 1580.8,1986.1 1581.6,1983.8 1582.4,1981.2 1583.2,1978.5 1584.0,1975.9 1584.8,1973.4 1585.6,1971.0 1586.4,1968.7 1587.2,1966.4 1588.0,1964.3 1588.8,1962.2 1589.6,1960.3 1590.4,1958.9 1591.2,1958.2 1592.0,1957.6 1592.8,1957.6 1593.6,1958.9 1594.4,1961.5 1595.2,1964.7 1596.0,1968.0 1596.8,1971.1 1597.6,1974.6 1598.4,1978.6 1599.2,1982.8 1600.0,1987.0 1600.8,1990.9 1601.6,1994.1 1602.4,1996.7 1603.2,1998.9 1604.0,2000.8 1604.8,2002.3 1605.6,2003.8 1606.4,2005.5 1607.2,2006.7 1608.0,2007.2 1608.8,2008.1 1609.6,2009.3 1610.4,2010.4 1611.2,2011.5 1612.0,2012.9 1612.8,2013.3 1613.6,2013.2 1614.4,2013.6 1615.2,2013.5 1616.0,2012.4 1616.8,2012.0 1617.6,2012.9 1618.4,2013.7 1619.2,2014.2 1620.0,2013.9 1620.8,2013.4 1621.6,2012.9 1622.4,2012.0 1623.2,2011.7 1624.0,2012.1 1624.8,2012.6 1625.6,2011.6 1626.4,2010.6 1627.2,2011.3 1628.0,2011.7 1628.8,2011.7 1629.6,2011.6 1630.4,2011.5 1631.2,2011.4 1632.0,2010.6 1632.8,2010.0 1633.6,2009.9 1634.4,2009.3 1635.2,2008.5 1636.0,2007.9 1636.8,2007.4 1637.6,2006.9 1638.4,2005.9 1639.2,2004.8 1640.0,2003.7 1640.8,2002.3 1641.6,2001.5 1642.4,2001.4 1643.2,2001.8 1644.0,2002.1 1644.8,2001.9 1645.6,2002.1 1646.4,2003.3 1647.2,2004.6 1648.0,2005.6 1648.8,2006.1 1649.6,2006.7 1650.4,2007.7 1651.2,2008.3 1652.0,2008.7 1652.8,2009.3 1653.6,2010.1 1654.4,2010.9 1655.2,2012.1 1656.0,2013.1 1656.8,2012.8 1657.6,2011.8 1658.4,2011.5 1659.2,2012.1 1660.0,2012.9 1660.8,2013.2 1661.6,2013.1 1662.4,2013.3 1663.2,2013.6 1664.0,2014.0 1664.8,2014.1 1665.6,2013.6 1666.4,2012.8 1667.2,2012.1 1668.0,2012.0 1668.8,2012.4 1669.6,2012.8 1670.4,2013.6 1671.2,2014.1 1672.0,2013.6 1672.8,2013.3 1673.6,2013.4 1674.4,2013.5 1675.2,2013.6 1676.0,2013.8 1676.8,2014.0 1677.6,2014.1 1678.4,2014.2 1679.2,2014.0 1680.0,2014.2 1680.8,2014.4 1681.6,2013.9 1682.4,2013.5 1683.2,2012.9 1684.0,2012.1 1684.8,2011.5 1685.6,2011.0 1686.4,2010.5 1687.2,2009.8 1688.0,2009.4 1688.8,2009.1 1689.6,2008.5 1690.4,2007.8 1691.2,2007.1 1692.0,2006.1 1692.8,2004.8 1693.6,2003.9 1694.4,2003.1 1695.2,2001.7 1696.0,2000.2 1696.8,1999.0 1697.6,1997.5 1698.4,1995.8 1699.2,1994.4 1700.0,1993.7 1700.8,1993.2 1701.6,1992.6 1702.4,1992.4 1703.2,1992.7 1704.0,1992.8 1704.8,1992.7 1705.6,1993.1 1706.4,1993.7 1707.2,1993.8 1708.0,1994.4 1708.8,1995.1 1709.6,1995.9 1710.4,1996.9 1711.2,1997.7 1712.0,1998.4 1712.8,1999.2 1713.6,2000.5 1714.4,2002.2 1715.2,2003.6 1716.0,2005.0 1716.8,2006.5 1717.6,2008.0 1718.4,2009.4 1719.2,2010.7 1720.0,2011.5 1720.8,2012.6 1721.6,2013.8 1722.4,2014.5 1723.2,2015.2 1724.0,2016.4 1724.8,2017.1 1725.6,2017.0 1726.4,2017.0 1727.2,2016.9 1728.0,2016.7 1728.8,2016.6 1729.6,2016.2 1730.4,2016.2 1731.2,2016.1 1732.0,2016.6 1732.8,2017.1 1733.6,2016.9 1734.4,2016.8 1735.2,2017.1 1736.0,2017.1 1736.8,2016.9 1737.6,2017.5 1738.4,2018.3 1739.2,2018.4 1740.0,2017.8 1740.8,2017.4 1741.6,2017.4 1742.4,2017.4 1743.2,2017.5 1744.0,2017.9 1744.8,2018.2 1745.6,2017.9 1746.4,2018.3 1747.2,2018.2 1748.0,2017.2 1748.8,2017.8 1749.6,2019.0 1750.4,2018.6 1751.2,2017.5 1752.0,2017.3 1752.8,2017.4 1753.6,2017.5 1754.4,2018.3 1755.2,2019.3 1756.0,2018.9 1756.8,2018.3 1757.6,2018.4 1758.4,2018.8 1759.2,2018.7 1760.0,2018.4 1760.8,2018.6 1761.6,2018.1 1762.4,2018.0 1763.2,2018.9 1764.0,2019.2 1764.8,2018.8 1765.6,2018.9 1766.4,2019.5 1767.2,2019.7 1768.0,2019.9 1768.8,2019.9 1769.6,2019.7 1770.4,2019.9 1771.2,2019.9 1772.0,2020.0 1772.8,2019.7 1773.6,2018.5 1774.4,2018.7 1775.2,2019.8 1776.0,2019.6 1776.8,2019.0 1777.6,2019.4 1778.4,2019.6 1779.2,2019.3 1780.0,2019.3 1780.8,2019.2 1781.6,2019.1 1782.4,2019.4 1783.2,2019.5 1784.0,2018.9 1784.8,2018.9 1785.6,2019.0 1786.4,2018.2 1787.2,2017.9 1788.0,2018.5 1788.8,2018.4 1789.6,2018.0 1790.4,2017.6 1791.2,2017.9 1792.0,2018.3 1792.8,2017.3 1793.6,2016.3 1794.4,2016.0 1795.2,2016.6 1796.0,2017.3 1796.8,2017.1 1797.6,2016.7 1798.4,2016.8 1799.2,2017.3 1800.0,2016.8 1800.8,2016.3 1801.6,2016.8 1802.4,2017.2 1803.2,2017.6 1804.0,2017.9 1804.8,2018.2 1805.6,2018.3 1806.4,2018.0 1807.2,2018.4 1808.0,2019.4 1808.8,2019.9 1809.6,2020.0 1810.4,2019.6 1811.2,2019.1 1812.0,2019.8 1812.8,2020.9 1813.6,2020.6 1814.4,2019.9 1815.2,2019.6 1816.0,2019.7 1816.8,2019.9 1817.6,2020.0 1818.4,2019.9 1819.2,2019.6 1820.0,2019.6 1820.8,2020.0 1821.6,2020.2 1822.4,2020.6 1823.2,2021.1 1824.0,2020.9 1824.8,2020.3 1825.6,2020.4 1826.4,2020.5 1827.2,2019.7 1828.0,2019.0 1828.8,2019.5 1829.6,2019.9 1830.4,2019.9 1831.2,2020.3 1832.0,2019.8 1832.8,2018.9 1833.6,2019.6 1834.4,2020.2 1835.2,2019.3 1836.0,2018.8 1836.8,2019.6 1837.6,2020.3 1838.4,2019.9 1839.2,2019.1 1840.0,2018.9 1840.8,2019.1 1841.6,2019.6 1842.4,2019.6 1843.2,2018.9 1844.0,2018.5 1844.8,2018.2 1845.6,2017.8 1846.4,2017.2 1847.2,2017.1 1848.0,2017.2 1848.8,2017.1 1849.6,2017.1 1850.4,2016.8 1851.2,2016.5 1852.0,2016.3 1852.8,2016.0 1853.6,2016.2 1854.4,2016.9 1855.2,2016.7 1856.0,2015.1 1856.8,2014.2 1857.6,2013.6 1858.4,2012.8 1859.2,2012.3 1860.0,2011.6 1860.8,2011.3 1861.6,2010.7 1862.4,2009.5 1863.2,2008.9 1864.0,2008.2 1864.8,2007.2 1865.6,2006.7 1866.4,2006.2 1867.2,2005.8 1868.0,2005.6 1868.8,2005.3 1869.6,2005.8 1870.4,2006.3 1871.2,2006.8 1872.0,2007.7 1872.8,2008.8 1873.6,2009.4 1874.4,2009.7 1875.2,2010.4 1876.0,2011.6 1876.8,2012.5 1877.6,2012.9 1878.4,2013.2 1879.2,2013.4 1880.0,2013.9 1880.8,2014.6 1881.6,2014.9 1882.4,2014.6 1883.2,2014.3 1884.0,2015.3 1884.8,2016.8 1885.6,2017.1 1886.4,2017.1 1887.2,2017.6 1888.0,2017.5 1888.8,2017.1 1889.6,2017.6 1890.4,2018.8 1891.2,2019.0 1892.0,2017.9 1892.8,2017.7 1893.6,2018.4 1894.4,2017.7 1895.2,2016.2 1896.0,2016.2 1896.8,2016.2 1897.6,2015.5 1898.4,2015.6 1899.2,2015.8 1900.0,2015.4 1900.8,2014.9 1901.6,2014.6 1902.4,2014.4 1903.2,2014.3 1904.0,2014.0 1904.8,2013.2 1905.6,2013.0 1906.4,2013.6 1907.2,2013.7 1908.0,2012.7 1908.8,2011.6 1909.6,2011.4 1910.4,2011.7 1911.2,2011.0 1912.0,2009.8 1912.8,2009.5 1913.6,2009.1 1914.4,2008.3 1915.2,2007.9 1916.0,2007.9 1916.8,2007.3 1917.6,2006.0 1918.4,2004.8 1919.2,2004.3 1920.0,2004.1 1920.8,2003.6 1921.6,2002.7 1922.4,2001.9 1923.2,2000.6 1924.0,1998.8 1924.8,1997.3 1925.6,1996.2 1926.4,1995.4 1927.2,1994.8 1928.0,1994.2 1928.8,1993.2 1929.6,1991.8 1930.4,1990.9 1931.2,1991.3 1932.0,1990.9 1932.8,1990.5 1933.6,1991.2 1934.4,1992.7 1935.2,1994.5 1936.0,1996.5 1936.8,1998.2 1937.6,1999.5 1938.4,2001.0 1939.2,2002.5 1940.0,2003.9 1940.8,2005.3 1941.6,2006.5 1942.4,2007.4 1943.2,2008.2 1944.0,2008.9 1944.8,2009.5 1945.6,2009.3 1946.4,2009.0 1947.2,2010.1 1948.0,2010.6 1948.8,2009.9 1949.6,2010.0 1950.4,2010.6 1951.2,2010.5 1952.0,2010.9 1952.8,2011.3 1953.6,2011.3 1954.4,2012.0 1955.2,2012.1 1956.0,2011.8 1956.8,2012.4 1957.6,2013.0 1958.4,2012.9 1959.2,2013.1 1960.0,2013.2 1960.8,2013.2 1961.6,2013.6 1962.4,2013.4 1963.2,2013.1 1964.0,2013.8 1964.8,2014.5 1965.6,2014.4 1966.4,2014.0 1967.2,2014.6 1968.0,2015.1 1968.8,2015.1 1969.6,2015.4 1970.4,2015.4 1971.2,2015.1 1972.0,2015.0 1972.8,2015.2 1973.6,2015.6 1974.4,2015.4 1975.2,2015.2 1976.0,2015.5 1976.8,2015.9 1977.6,2016.2 1978.4,2015.9 1979.2,2015.2 1980.0,2015.2 1980.8,2015.7 1981.6,2015.8 1982.4,2016.2 1983.2,2016.8 1984.0,2016.3 1984.8,2015.5 1985.6,2015.8 1986.4,2016.0 1987.2,2015.2 1988.0,2014.4 1988.8,2014.7 1989.6,2015.7 1990.4,2015.7 1991.2,2015.1 1992.0,2015.4 1992.8,2015.7 1993.6,2015.5 1994.4,2015.3 1995.2,2015.5 1996.0,2015.9 1996.8,2015.9 1997.6,2015.8 1998.4,2015.4 1999.2,2014.9 2000.0,2014.8 2000.8,2014.6 2001.6,2015.0 2002.4,2015.0 2003.2,2013.8 2004.0,2013.2 2004.8,2014.0 2005.6,2014.8 2006.4,2014.7 2007.2,2014.4 2008.0,2013.7 2008.8,2012.6 2009.6,2011.7 2010.4,2010.9 2011.2,2011.4 2012.0,2011.8 2012.8,2010.9 2013.6,2010.2 2014.4,2010.8 2015.2,2011.8 2016.0,2012.8 2016.8,2013.2 2017.6,2012.0 2018.4,2009.8 2019.2,2009.0 2020.0,2009.9 2020.8,2009.9 2021.6,2008.8 2022.4,2008.4 2023.2,2008.4 2024.0,2008.3 2024.8,2008.1 2025.6,2008.1 2026.4,2007.9 2027.2,2007.3 2028.0,2007.4 2028.8,2007.1 2029.6,2005.7 2030.4,2005.1 2031.2,2005.9 2032.0,2006.4 2032.8,2006.1 2033.6,2005.7 2034.4,2005.5 2035.2,2005.4 2036.0,2005.3 2036.8,2005.5 2037.6,2005.7 2038.4,2006.0 2039.2,2006.5 2040.0,2006.4 2040.8,2006.0 2041.6,2005.9 2042.4,2005.9 2043.2,2007.2 2044.0,2008.4 2044.8,2008.1 2045.6,2007.7 2046.4,2007.9 2047.2,2008.1 2048.0,2008.2 2048.8,2008.4 2049.6,2008.3 2050.4,2008.2 2051.2,2008.4 2052.0,2008.0 2052.8,2008.0 2053.6,2008.9 2054.4,2008.2 2055.2,2007.4 2056.0,2007.8 2056.8,2007.8 2057.6,2007.6 2058.4,2007.3 2059.2,2006.0 2060.0,2005.1 2060.8,2005.6 2061.6,2006.1 2062.4,2005.6 2063.2,2004.6 2064.0,2004.0 2064.8,2003.6 2065.6,2002.7 2066.4,2001.5 2067.2,1999.9 2068.0,1998.2 2068.8,1996.3 2069.6,1994.1 2070.4,1991.9 2071.2,1989.8 2072.0,1987.9 2072.8,1986.4 2073.6,1985.3 2074.4,1983.9 2075.2,1982.2 2076.0,1980.6 2076.8,1979.3 2077.6,1977.9 2078.4,1977.1 2079.2,1977.1 2080.0,1976.7 2080.8,1976.0 2081.6,1976.4 2082.4,1977.7 2083.2,1977.7 2084.0,1977.5 2084.8,1978.3 2085.6,1979.7 2086.4,1980.7 2087.2,1981.2 2088.0,1981.7 2088.8,1981.9 2089.6,1982.0 2090.4,1981.9 2091.2,1981.3 2092.0,1980.7 2092.8,1980.0 2093.6,1979.4 2094.4,1979.0 2095.2,1978.3 2096.0,1977.6 2096.8,1977.2 2097.6,1976.9 2098.4,1977.1 2099.2,1977.5 2100.0,1977.7 2100.8,1978.2 2101.6,1978.8 2102.4,1979.2 2103.2,1980.3 2104.0,1982.0 2104.8,1983.9 2105.6,1985.8 2106.4,1987.3 2107.2,1988.4 2108.0,1989.7 2108.8,1991.4 2109.6,1993.0 2110.4,1994.6 2111.2,1996.3 2112.0,1998.2 2112.8,2000.0 2113.6,2001.6 2114.4,2003.1 2115.2,2004.3 2116.0,2005.2 2116.8,2005.9 2117.6,2005.6 2118.4,2005.4 2119.2,2006.1 2120.0,2006.4 2120.8,2006.2 2121.6,2006.1 2122.4,2006.1 2123.2,2005.6 2124.0,2005.5 2124.8,2005.9 2125.6,2005.8 2126.4,2005.9 2127.2,2006.4 2128.0,2007.0 2128.8,2007.1 2129.6,2005.9 2130.4,2005.5 2131.2,2006.4 2132.0,2006.8 2132.8,2006.1 2133.6,2005.7 2134.4,2006.1 2135.2,2005.8 2136.0,2005.9 2136.8,2006.2 2137.6,2005.8 2138.4,2005.9 2139.2,2006.3 2140.0,2006.6 2140.8,2006.6 2141.6,2006.7 2142.4,2007.0 2143.2,2007.1 2144.0,2007.9 2144.8,2009.4 2145.6,2010.2 2146.4,2010.3 2147.2,2010.4 2148.0,2010.9 2148.8,2011.3 2149.6,2011.7 2150.4,2012.5 2151.2,2012.9 2152.0,2012.9 2152.8,2013.4 2153.6,2014.5 2154.4,2015.2 2155.2,2015.0 2156.0,2014.7 2156.8,2015.2 2157.6,2015.9 2158.4,2015.9 2159.2,2015.8 2160.0,2015.7 2160.8,2015.7 2161.6,2015.8 2162.4,2015.3 2163.2,2015.3 2164.0,2015.3 2164.8,2014.8 2165.6,2015.3 2166.4,2015.6 2167.2,2015.0 2168.0,2014.6 2168.8,2014.9 2169.6,2015.0 2170.4,2014.7 2171.2,2014.5 2172.0,2014.0 2172.8,2013.5 2173.6,2012.8 2174.4,2011.6 2175.2,2011.0 2176.0,2010.9 2176.8,2010.8 2177.6,2010.5 2178.4,2009.6 2179.2,2008.3 2180.0,2007.0 2180.8,2005.7 2181.6,2004.3 2182.4,2003.1 2183.2,2001.9 2184.0,2000.5 2184.8,1999.2 2185.6,1998.1 2186.4,1996.8 2187.2,1995.2 2188.0,1993.7 2188.8,1992.9 2189.6,1992.3 2190.4,1992.1 2191.2,1992.1 2192.0,1992.8 2192.8,1994.4 2193.6,1995.5 2194.4,1996.0 2195.2,1996.7 2196.0,1997.9 2196.8,1998.8 2197.6,1999.3 2198.4,2000.2 2199.2,2001.1 2200.0,2001.0 2200.8,2001.2 2201.6,2002.1 2202.4,2002.1 2203.2,2002.4 2204.0,2003.1 2204.8,2002.7 2205.6,2002.1 2206.4,2002.2 2207.2,2002.1 2208.0,2002.2 2208.8,2002.0 2209.6,2001.5 2210.4,2001.2 2211.2,2000.7 2212.0,1999.8 2212.8,1998.6 2213.6,1997.2 2214.4,1995.6 2215.2,1993.8 2216.0,1991.9 2216.8,1990.1 2217.6,1988.2 2218.4,1986.1 2219.2,1984.5 2220.0,1982.9 2220.8,1980.8 2221.6,1979.0 2222.4,1977.4 2223.2,1976.1 2224.0,1975.0 2224.8,1973.3 2225.6,1971.4 2226.4,1969.6 2227.2,1968.3 2228.0,1967.4 2228.8,1966.3 2229.6,1965.2 2230.4,1964.4 2231.2,1963.5 2232.0,1962.8 2232.8,1961.9 2233.6,1961.4 2234.4,1961.4 2235.2,1961.6 2236.0,1962.6 2236.8,1963.9 2237.6,1965.1 2238.4,1966.7 2239.2,1968.4 2240.0,1970.0 2240.8,1971.7 2241.6,1973.6 2242.4,1976.0 2243.2,1978.5 2244.0,1981.0 2244.8,1983.2 2245.6,1985.1 2246.4,1987.0 2247.2,1988.7 2248.0,1990.1 2248.8,1991.8 2249.6,1993.5 2250.4,1994.7 2251.2,1996.0 2252.0,1997.4 2252.8,1998.2 2253.6,1998.9 2254.4,2000.3 2255.2,2002.0 2256.0,2003.3 2256.8,2004.0 2257.6,2004.3 2258.4,2004.6 2259.2,2005.7 2260.0,2006.4 2260.8,2006.6 2261.6,2007.1 2262.4,2007.5 2263.2,2007.9 2264.0,2008.0 2264.8,2008.1 2265.6,2008.8 2266.4,2008.8 2267.2,2008.8 2268.0,2009.2 2268.8,2009.7 2269.6,2010.0 2270.4,2010.3 2271.2,2010.7 2272.0,2010.5 2272.8,2009.5 2273.6,2008.9 2274.4,2009.7 2275.2,2010.3 2276.0,2010.2 2276.8,2010.5 2277.6,2011.5 2278.4,2012.4 2279.2,2012.9 2280.0,2012.4 2280.8,2011.6 2281.6,2011.3 2282.4,2011.3 2283.2,2011.9 2284.0,2012.0 2284.8,2011.6 2285.6,2011.5 2286.4,2011.5 2287.2,2011.7 2288.0,2013.0 2288.8,2013.8 2289.6,2013.2 2290.4,2012.6 2291.2,2012.1 2292.0,2012.3 2292.8,2012.8 2293.6,2012.4 2294.4,2012.0 2295.2,2012.1 2296.0,2012.1 2296.8,2012.0 2297.6,2011.6 2298.4,2011.1 2299.2,2011.5 2300.0,2011.8 2300.8,2011.0 2301.6,2011.1 2302.4,2011.9 2303.2,2012.1 2304.0,2011.3 2304.8,2010.3 2305.6,2010.3 2306.4,2010.0 2307.2,2009.9 2308.0,2010.8 2308.8,2010.8 2309.6,2009.6 2310.4,2009.2 2311.2,2009.5 2312.0,2009.4 2312.8,2009.7 2313.6,2010.7 2314.4,2010.4 2315.2,2009.4 2316.0,2009.7 2316.8,2010.9 2317.6,2010.8 2318.4,2009.5 2319.2,2009.2 2320.0,2009.1 2320.8,2008.0 2321.6,2008.0 2322.4,2008.4 2323.2,2007.7 2324.0,2007.0 2324.8,2006.8 2325.6,2007.2 2326.4,2007.7 2327.2,2007.2 2328.0,2006.9 2328.8,2007.7 2329.6,2008.7 2330.4,2008.3 2331.2,2007.8 2332.0,2008.0 2332.8,2008.3 2333.6,2007.7 2334.4,2007.2 2335.2,2007.6 2336.0,2008.2 2336.8,2008.0 2337.6,2007.8 2338.4,2008.1 2339.2,2007.6 2340.0,2007.3 2340.8,2008.0 2341.6,2008.0 2342.4,2007.8 2343.2,2008.0 2344.0,2008.4 2344.8,2008.6 2345.6,2008.5 2346.4,2007.7 2347.2,2006.4 2348.0,2006.3 2348.8,2007.0 2349.6,2007.3 2350.4,2007.7 2351.2,2007.5 2352.0,2006.8 2352.8,2006.7 2353.6,2006.9 2354.4,2007.2 2355.2,2007.9 2356.0,2008.8 2356.8,2008.8 2357.6,2008.1 2358.4,2008.3 2359.2,2009.4 2360.0,2009.5 2360.8,2008.4 2361.6,2007.4 2362.4,2007.7 2363.2,2008.4 2364.0,2009.0 2364.8,2009.6 2365.6,2009.3 2366.4,2008.5 2367.2,2007.9 2368.0,2007.6 2368.8,2007.8 2369.6,2008.0 2370.4,2008.4 2371.2,2008.8 2372.0,2009.1 2372.8,2009.2"/>
<path class="cv" stroke="#1366dc" stroke-width="8.6" stroke-opacity="0.55" stroke-linecap="round" d="M476.0,1431.8 478.4,1431.7 480.8,1431.5 483.2,1431.3 485.6,1431.1 488.0,1430.9 490.4,1430.5 492.8,1430.2 495.2,1429.8 497.6,1429.6 500.0,1429.4 502.4,1429.2 504.8,1428.9 507.2,1428.6 509.6,1428.3 512.0,1427.9 514.4,1427.4 516.8,1426.8 519.2,1426.3 521.6,1425.9 524.0,1425.7 526.4,1425.6 528.8,1425.1 531.2,1423.7 533.6,1421.8 536.0,1419.7 M540.8,1415.1 543.2,1415.0 545.6,1416.8 548.0,1418.7 550.4,1419.5 552.8,1419.2 555.2,1419.1 557.6,1419.0 560.0,1418.9 562.4,1418.7 564.8,1418.4 M586.4,1418.9 588.8,1419.0 591.2,1419.3 593.6,1419.5 596.0,1419.5 598.4,1419.2 600.8,1418.8 603.2,1418.6 605.6,1418.5 608.0,1418.6 610.4,1418.7 612.8,1418.6 615.2,1418.5 617.6,1418.4 620.0,1418.4 622.4,1418.4 624.8,1418.3 627.2,1418.4 629.6,1418.5 632.0,1418.6 634.4,1418.3 636.8,1418.0 639.2,1417.7 641.6,1417.7 644.0,1417.7 646.4,1417.4 648.8,1417.0 651.2,1416.6 653.6,1416.3 656.0,1416.2 658.4,1416.2 660.8,1416.1 663.2,1416.0 665.6,1415.9 668.0,1415.7 670.4,1415.4 672.8,1415.1 675.2,1414.9 677.6,1414.8 680.0,1414.7 682.4,1414.6 684.8,1414.6 687.2,1414.6 689.6,1414.5 692.0,1414.3 694.4,1413.9 M711.2,1412.7 713.6,1412.6 716.0,1412.7 718.4,1412.7 720.8,1412.3 723.2,1411.8 725.6,1411.6 728.0,1411.8 730.4,1412.1 732.8,1412.2 735.2,1412.0 737.6,1411.7 740.0,1411.5 742.4,1411.5 744.8,1411.4 747.2,1411.4 749.6,1411.3 752.0,1411.1 754.4,1410.9 756.8,1410.8 759.2,1410.7 761.6,1410.3 764.0,1409.9 766.4,1409.7 768.8,1409.5 771.2,1409.2 773.6,1408.4 776.0,1407.2 778.4,1405.6 780.8,1403.6 M812.0,1406.3 814.4,1407.1 816.8,1407.8 819.2,1408.1 821.6,1408.0 824.0,1407.7 826.4,1407.4 828.8,1407.4 831.2,1407.6 833.6,1407.8 836.0,1407.6 838.4,1407.3 840.8,1407.1 843.2,1407.1 845.6,1407.2 848.0,1407.3 850.4,1407.2 852.8,1407.2 855.2,1407.0 857.6,1406.5 860.0,1405.8 M908.0,1402.4 910.4,1403.3 912.8,1403.1 915.2,1402.7 917.6,1402.0 920.0,1401.3 922.4,1400.0 M927.2,1395.2 929.6,1393.4 932.0,1393.1 934.4,1394.8 M939.2,1399.7 941.6,1401.5 944.0,1402.7 946.4,1403.0 948.8,1403.3 951.2,1403.3 953.6,1403.1 956.0,1402.9 958.4,1402.6 960.8,1402.2 963.2,1402.0 965.6,1402.1 968.0,1402.1 970.4,1402.1 972.8,1402.1 975.2,1402.2 977.6,1402.3 980.0,1402.3 982.4,1402.3 984.8,1402.4 987.2,1402.3 989.6,1402.1 992.0,1401.8 994.4,1401.7 996.8,1401.8 999.2,1401.9 1001.6,1401.8 1004.0,1401.5 1006.4,1401.2 1008.8,1400.8 1011.2,1400.4 1013.6,1400.2 1016.0,1399.4 M1056.8,1398.3 1059.2,1398.3 1061.6,1398.5 1064.0,1398.6 1066.4,1398.5 1068.8,1398.4 1071.2,1398.3 1073.6,1398.3 1076.0,1398.3 1078.4,1398.3 1080.8,1398.4 1083.2,1398.5 1085.6,1398.5 1088.0,1398.2 1090.4,1397.5 1092.8,1396.8 1095.2,1395.9 1097.6,1395.3 1100.0,1395.4 1102.4,1396.0 M1124.0,1397.1 1126.4,1396.7 1128.8,1396.0 1131.2,1394.8 1133.6,1393.3 1136.0,1391.8 1138.4,1390.4 1140.8,1389.0 1143.2,1387.4 1145.6,1385.6 M1217.6,1389.5 1220.0,1389.7 1222.4,1389.9 1224.8,1390.1 1227.2,1390.2 1229.6,1390.3 1232.0,1389.8 M1306.4,1385.3 1308.8,1386.6 1311.2,1387.5 1313.6,1387.7 1316.0,1387.6 1318.4,1387.3 1320.8,1386.8 1323.2,1386.0 M1380.8,1389.0 1383.2,1389.9 1385.6,1389.9 1388.0,1389.6 1390.4,1389.2 1392.8,1388.5 1395.2,1386.5 1397.6,1384.6 1400.0,1385.1 1402.4,1387.4 1404.8,1389.4 1407.2,1391.2 1409.6,1391.4 1412.0,1391.3 1414.4,1391.3 1416.8,1391.3 1419.2,1391.4 1421.6,1391.4 1424.0,1391.4 1426.4,1391.6 1428.8,1391.8 1431.2,1391.9 1433.6,1392.0 1436.0,1392.0 1438.4,1391.8 1440.8,1391.7 1443.2,1391.6 1445.6,1391.8 1448.0,1392.1 1450.4,1392.4 1452.8,1392.5 1455.2,1392.4 1457.6,1392.2 1460.0,1392.0 M1474.4,1390.2 1476.8,1391.5 1479.2,1391.7 1481.6,1391.6 1484.0,1391.4 1486.4,1391.4 1488.8,1391.3 1491.2,1391.1 1493.6,1390.6 1496.0,1390.1 1498.4,1389.7 1500.8,1389.4 1503.2,1389.2 1505.6,1388.8 1508.0,1388.3 1510.4,1387.6 1512.8,1386.3 M1592.0,1391.5 1594.4,1391.4 1596.8,1391.4 1599.2,1391.3 1601.6,1391.3 1604.0,1391.3 1606.4,1391.3 1608.8,1391.3 M1628.0,1391.8 1630.4,1391.9 1632.8,1391.8 1635.2,1391.9 1637.6,1392.1 1640.0,1392.4 1642.4,1392.6 1644.8,1392.6 1647.2,1391.6 M1664.0,1392.3 1666.4,1392.3 1668.8,1391.4 1671.2,1390.4 1673.6,1389.4 1676.0,1387.8 1678.4,1386.8 1680.8,1387.5 1683.2,1389.1 1685.6,1390.7 1688.0,1392.2 1690.4,1392.5 1692.8,1392.4 1695.2,1392.4 1697.6,1392.3 1700.0,1392.2 1702.4,1392.1 1704.8,1392.1 1707.2,1392.0 1709.6,1392.0 1712.0,1391.1 M1719.2,1383.4 1721.6,1382.6 1724.0,1382.8 1726.4,1383.2 1728.8,1383.9 1731.2,1384.6 1733.6,1386.0 M1738.4,1390.8 1740.8,1392.2 1743.2,1392.1 1745.6,1391.9 1748.0,1391.9 1750.4,1392.1 1752.8,1392.3 1755.2,1392.2 1757.6,1392.0 1760.0,1391.9 1762.4,1391.8 M1779.2,1389.5 1781.6,1390.1 1784.0,1389.7 1786.4,1389.1 1788.8,1388.5 1791.2,1387.9 1793.6,1387.7 1796.0,1388.3 1798.4,1389.7 1800.8,1391.1 1803.2,1392.1 1805.6,1392.3 1808.0,1392.3 1810.4,1392.3 1812.8,1392.2 1815.2,1392.2 1817.6,1392.2 1820.0,1392.2 1822.4,1392.1 1824.8,1391.7 1827.2,1390.9 1829.6,1389.9 1832.0,1388.7 1834.4,1387.7 1836.8,1386.9 1839.2,1386.4 1841.6,1386.2 1844.0,1386.3 1846.4,1386.4 1848.8,1386.3 1851.2,1386.1 1853.6,1385.7 1856.0,1384.6 M1889.6,1390.4 1892.0,1390.6 1894.4,1390.8 1896.8,1390.9 1899.2,1390.8 1901.6,1390.6 1904.0,1390.5 1906.4,1390.6 1908.8,1390.8 1911.2,1391.0 1913.6,1391.3 1916.0,1391.6 1918.4,1391.9 1920.8,1392.1 1923.2,1392.4 1925.6,1392.7 1928.0,1392.8 1930.4,1392.5 1932.8,1392.2 1935.2,1392.0 1937.6,1391.9 1940.0,1391.8 1942.4,1391.6 1944.8,1391.1 1947.2,1390.7 1949.6,1390.4 1952.0,1390.2 1954.4,1389.3 1956.8,1388.1 1959.2,1387.0 1961.6,1385.9 1964.0,1384.8 1966.4,1384.2 1968.8,1384.5 1971.2,1385.3 1973.6,1386.2 1976.0,1387.0 1978.4,1387.7 1980.8,1388.4 1983.2,1389.1 1985.6,1389.8 1988.0,1390.1 1990.4,1390.1 1992.8,1389.7 1995.2,1389.0 1997.6,1388.1 2000.0,1387.2 2002.4,1386.6 2004.8,1386.9 2007.2,1387.8 2009.6,1388.9 2012.0,1389.6 2014.4,1389.8 2016.8,1389.8 2019.2,1389.4 2021.6,1388.6 2024.0,1387.6 2026.4,1386.3 2028.8,1385.0 M2057.6,1382.4 2060.0,1383.6 2062.4,1384.5 2064.8,1385.1 2067.2,1385.4 2069.6,1385.4 2072.0,1385.1 2074.4,1384.6 2076.8,1384.0 2079.2,1383.6 M2124.8,1384.9 2127.2,1386.7 2129.6,1386.7 2132.0,1386.2 2134.4,1385.6 2136.8,1385.0 2139.2,1384.5 2141.6,1384.4 2144.0,1384.6 2146.4,1385.3 2148.8,1386.3 2151.2,1387.1 2153.6,1387.8 2156.0,1388.3 2158.4,1388.8 2160.8,1389.4 2163.2,1389.9 2165.6,1390.0 2168.0,1389.3 2170.4,1388.3 2172.8,1387.4 2175.2,1386.8 2177.6,1386.4 2180.0,1386.5 2182.4,1387.0 2184.8,1387.8 2187.2,1388.6 2189.6,1389.0 2192.0,1389.0 2194.4,1388.9 2196.8,1388.8 2199.2,1388.7 2201.6,1388.7 2204.0,1388.5 2206.4,1388.1 2208.8,1387.7 2211.2,1387.4 2213.6,1387.2 2216.0,1387.1 2218.4,1386.7 2220.8,1386.2 2223.2,1385.7 2225.6,1385.3 M2264.0,1374.3 2266.4,1376.5 2268.8,1378.4 2271.2,1380.1 2273.6,1382.0 2276.0,1383.6 2278.4,1384.5 2280.8,1384.7 2283.2,1384.7 2285.6,1384.8 2288.0,1385.0 2290.4,1385.2 2292.8,1385.3 2295.2,1385.1 2297.6,1384.8 2300.0,1384.4 2302.4,1384.0 2304.8,1383.3 2307.2,1382.5 2309.6,1381.7 2312.0,1381.2 2314.4,1380.9 2316.8,1380.9 2319.2,1381.3 2321.6,1382.0 2324.0,1382.9 2326.4,1383.8 2328.8,1384.7 2331.2,1385.7 2333.6,1386.5 2336.0,1387.0 2338.4,1387.0 2340.8,1386.9 2343.2,1387.1 2345.6,1387.3 2348.0,1387.5 2350.4,1387.6 2352.8,1387.6 2355.2,1387.6 2357.6,1387.6 2360.0,1387.6 2362.4,1387.6 2364.8,1387.7 2367.2,1387.9 2369.6,1388.1 2372.0,1388.3"/>
<path id="c-cell" class="cv" stroke="#1366dc" stroke-width="6" d="M476.0,1431.9 476.8,1431.8 477.6,1431.5 478.4,1431.1 479.2,1431.0 480.0,1431.0 480.8,1431.6 481.6,1431.9 482.4,1431.3 483.2,1431.0 484.0,1431.4 484.8,1431.5 485.6,1431.1 486.4,1430.7 487.2,1430.9 488.0,1430.9 488.8,1430.2 489.6,1429.7 490.4,1429.3 491.2,1429.0 492.0,1429.2 492.8,1429.4 493.6,1429.5 494.4,1429.8 495.2,1429.9 496.0,1429.1 496.8,1428.4 497.6,1428.8 498.4,1429.4 499.2,1429.2 500.0,1428.7 500.8,1428.6 501.6,1428.6 502.4,1428.9 503.2,1429.2 504.0,1428.9 504.8,1428.9 505.6,1429.1 506.4,1428.6 507.2,1428.4 508.0,1428.5 508.8,1428.2 509.6,1427.8 510.4,1428.3 511.2,1428.4 512.0,1427.8 512.8,1427.8 513.6,1427.7 514.4,1427.6 515.2,1428.1 516.0,1427.5 516.8,1426.4 517.6,1426.5 518.4,1426.6 519.2,1426.5 520.0,1426.4 520.8,1426.3 521.6,1426.5 522.4,1426.4 523.2,1425.8 524.0,1425.5 524.8,1425.5 525.6,1425.3 526.4,1424.9 527.2,1424.9 528.0,1425.2 528.8,1425.6 529.6,1425.0 530.4,1423.7 531.2,1423.2 532.0,1422.8 532.8,1421.7 533.6,1421.2 534.4,1421.3 535.2,1421.1 536.0,1420.2 536.8,1419.0 537.6,1418.0 538.4,1417.3 539.2,1416.7 540.0,1415.7 540.8,1415.0 541.6,1414.9 542.4,1414.8 543.2,1414.7 544.0,1415.0 544.8,1415.7 545.6,1416.7 546.4,1417.8 547.2,1418.5 548.0,1419.0 548.8,1419.4 549.6,1419.7 550.4,1419.8 551.2,1419.7 552.0,1419.3 552.8,1418.9 553.6,1418.7 554.4,1418.0 555.2,1417.8 556.0,1418.3 556.8,1418.6 557.6,1419.4 558.4,1419.8 559.2,1418.9 560.0,1418.5 560.8,1418.9 561.6,1419.0 562.4,1418.7 563.2,1418.7 564.0,1418.9 564.8,1418.5 565.6,1417.8 566.4,1417.7 567.2,1416.9 568.0,1415.4 568.8,1413.7 569.6,1411.4 570.4,1408.1 571.2,1401.0 572.0,1391.4 572.8,1380.7 573.6,1366.6 574.4,1351.7 575.2,1340.0 576.0,1335.8 576.8,1341.6 577.6,1353.2 578.4,1367.3 579.2,1380.7 580.0,1391.6 580.8,1401.7 581.6,1409.5 582.4,1413.9 583.2,1417.3 584.0,1419.5 584.8,1419.2 585.6,1418.8 586.4,1418.6 587.2,1418.7 588.0,1419.1 588.8,1419.0 589.6,1418.8 590.4,1418.7 591.2,1418.6 592.0,1419.0 592.8,1419.7 593.6,1420.0 594.4,1419.9 595.2,1419.6 596.0,1419.1 596.8,1419.0 597.6,1419.0 598.4,1419.0 599.2,1418.8 600.0,1418.4 600.8,1418.0 601.6,1418.5 602.4,1419.1 603.2,1418.4 604.0,1418.0 604.8,1418.8 605.6,1418.9 606.4,1418.2 607.2,1418.1 608.0,1417.9 608.8,1417.9 609.6,1418.6 610.4,1418.9 611.2,1418.5 612.0,1418.4 612.8,1418.5 613.6,1418.4 614.4,1418.1 615.2,1417.7 616.0,1418.0 616.8,1418.6 617.6,1418.5 618.4,1418.4 619.2,1418.4 620.0,1418.1 620.8,1418.2 621.6,1418.5 622.4,1418.4 623.2,1418.2 624.0,1418.6 624.8,1419.0 625.6,1419.0 626.4,1418.5 627.2,1417.9 628.0,1417.9 628.8,1418.8 629.6,1419.1 630.4,1418.8 631.2,1419.0 632.0,1419.2 632.8,1419.3 633.6,1418.9 634.4,1418.7 635.2,1418.5 636.0,1418.1 636.8,1418.2 637.6,1418.4 638.4,1418.7 639.2,1419.0 640.0,1418.5 640.8,1417.1 641.6,1416.9 642.4,1417.5 643.2,1417.4 644.0,1417.6 644.8,1417.6 645.6,1416.5 646.4,1416.2 647.2,1416.9 648.0,1417.1 648.8,1416.9 649.6,1416.6 650.4,1416.0 651.2,1415.7 652.0,1415.9 652.8,1415.6 653.6,1415.5 654.4,1416.1 655.2,1416.4 656.0,1416.2 656.8,1415.7 657.6,1415.5 658.4,1415.4 659.2,1415.6 660.0,1415.9 660.8,1415.9 661.6,1416.2 662.4,1416.7 663.2,1416.7 664.0,1416.0 664.8,1416.1 665.6,1416.1 666.4,1415.5 667.2,1415.1 668.0,1415.4 668.8,1415.8 669.6,1415.6 670.4,1415.3 671.2,1415.4 672.0,1415.6 672.8,1414.8 673.6,1413.9 674.4,1413.7 675.2,1413.1 676.0,1412.9 676.8,1414.1 677.6,1415.2 678.4,1414.8 679.2,1414.0 680.0,1414.3 680.8,1415.0 681.6,1415.0 682.4,1414.7 683.2,1414.6 684.0,1414.8 684.8,1415.1 685.6,1415.0 686.4,1414.6 687.2,1414.3 688.0,1414.4 688.8,1414.6 689.6,1414.6 690.4,1414.2 691.2,1414.1 692.0,1414.0 692.8,1414.0 693.6,1414.8 694.4,1414.8 695.2,1414.0 696.0,1413.8 696.8,1412.6 697.6,1411.1 698.4,1410.0 699.2,1408.7 700.0,1407.1 700.8,1405.1 701.6,1403.0 702.4,1401.6 703.2,1401.6 704.0,1401.6 704.8,1403.3 705.6,1405.7 706.4,1407.9 707.2,1409.8 708.0,1411.8 708.8,1413.3 709.6,1413.8 710.4,1413.5 711.2,1413.2 712.0,1412.9 712.8,1412.7 713.6,1412.5 714.4,1412.5 715.2,1412.9 716.0,1413.5 716.8,1413.3 717.6,1412.7 718.4,1412.3 719.2,1412.5 720.0,1413.2 720.8,1412.9 721.6,1412.2 722.4,1411.6 723.2,1411.2 724.0,1411.6 724.8,1411.9 725.6,1411.6 726.4,1411.4 727.2,1411.6 728.0,1411.5 728.8,1411.2 729.6,1411.4 730.4,1411.9 731.2,1412.2 732.0,1412.2 732.8,1412.7 733.6,1412.9 734.4,1412.2 735.2,1411.7 736.0,1411.9 736.8,1411.6 737.6,1411.4 738.4,1412.1 739.2,1412.5 740.0,1411.8 740.8,1411.1 741.6,1411.0 742.4,1411.1 743.2,1410.7 744.0,1411.0 744.8,1411.6 745.6,1411.6 746.4,1412.1 747.2,1412.4 748.0,1412.0 748.8,1412.1 749.6,1412.3 750.4,1411.5 751.2,1410.6 752.0,1410.4 752.8,1411.1 753.6,1411.8 754.4,1411.5 755.2,1410.5 756.0,1410.2 756.8,1410.5 757.6,1410.8 758.4,1410.8 759.2,1410.8 760.0,1410.7 760.8,1410.3 761.6,1410.2 762.4,1410.2 763.2,1410.1 764.0,1410.5 764.8,1410.8 765.6,1410.4 766.4,1409.4 767.2,1409.0 768.0,1409.0 768.8,1408.5 769.6,1408.6 770.4,1409.6 771.2,1409.7 772.0,1408.7 772.8,1407.9 773.6,1407.8 774.4,1407.8 775.2,1408.2 776.0,1408.2 776.8,1407.1 777.6,1405.7 778.4,1405.1 779.2,1404.8 780.0,1404.1 780.8,1403.3 781.6,1402.6 782.4,1402.2 783.2,1401.9 784.0,1401.3 784.8,1399.8 785.6,1398.2 786.4,1394.5 787.2,1387.0 788.0,1376.9 788.8,1365.2 789.6,1347.5 790.4,1326.5 791.2,1306.7 792.0,1291.1 792.8,1285.5 793.6,1292.4 794.4,1310.1 795.2,1329.7 796.0,1346.3 796.8,1354.3 797.6,1360.3 798.4,1364.8 799.2,1367.4 800.0,1367.0 800.8,1365.1 801.6,1362.5 802.4,1360.5 803.2,1361.0 804.0,1368.0 804.8,1377.6 805.6,1385.9 806.4,1393.5 807.2,1400.6 808.0,1404.1 808.8,1405.5 809.6,1406.0 810.4,1406.1 811.2,1406.1 812.0,1405.9 812.8,1405.9 813.6,1406.6 814.4,1407.2 815.2,1407.3 816.0,1407.8 816.8,1407.9 817.6,1407.4 818.4,1407.5 819.2,1407.8 820.0,1407.9 820.8,1407.7 821.6,1407.5 822.4,1407.4 823.2,1407.0 824.0,1406.9 824.8,1407.5 825.6,1407.6 826.4,1407.0 827.2,1406.9 828.0,1406.9 828.8,1407.0 829.6,1407.5 830.4,1407.8 831.2,1408.0 832.0,1407.8 832.8,1407.7 833.6,1407.6 834.4,1407.5 835.2,1407.8 836.0,1407.8 836.8,1407.8 837.6,1407.3 838.4,1406.8 839.2,1407.0 840.0,1407.4 840.8,1407.4 841.6,1406.9 842.4,1406.5 843.2,1406.5 844.0,1406.8 844.8,1406.4 845.6,1406.1 846.4,1407.0 847.2,1407.4 848.0,1406.6 848.8,1406.3 849.6,1406.4 850.4,1406.6 851.2,1406.9 852.0,1406.8 852.8,1406.8 853.6,1407.1 854.4,1407.0 855.2,1406.8 856.0,1406.3 856.8,1405.6 857.6,1405.9 858.4,1406.6 859.2,1406.3 860.0,1405.8 860.8,1405.5 861.6,1405.1 862.4,1405.0 863.2,1404.6 864.0,1403.2 864.8,1401.7 865.6,1398.4 866.4,1393.5 867.2,1387.5 868.0,1379.5 868.8,1366.9 869.6,1354.2 870.4,1345.3 871.2,1345.0 872.0,1352.4 872.8,1363.4 873.6,1375.2 874.4,1384.2 875.2,1389.9 876.0,1395.0 876.8,1399.3 877.6,1402.4 878.4,1404.5 879.2,1404.8 880.0,1403.9 880.8,1402.9 881.6,1402.3 882.4,1402.3 883.2,1402.1 884.0,1401.5 884.8,1400.6 885.6,1399.8 886.4,1399.3 887.2,1398.8 888.0,1398.1 888.8,1396.8 889.6,1395.0 890.4,1393.4 891.2,1392.0 892.0,1390.5 892.8,1389.2 893.6,1388.1 894.4,1387.3 895.2,1386.9 896.0,1386.8 896.8,1386.8 897.6,1387.1 898.4,1387.8 899.2,1389.1 900.0,1390.7 900.8,1392.3 901.6,1394.0 902.4,1395.4 903.2,1396.6 904.0,1397.6 904.8,1398.4 905.6,1399.4 906.4,1400.4 907.2,1401.0 908.0,1402.1 908.8,1403.0 909.6,1403.1 910.4,1403.0 911.2,1402.8 912.0,1402.6 912.8,1402.7 913.6,1402.7 914.4,1402.5 915.2,1402.2 916.0,1402.4 916.8,1402.3 917.6,1401.9 918.4,1401.7 919.2,1401.3 920.0,1400.8 920.8,1400.9 921.6,1400.7 922.4,1400.0 923.2,1399.2 924.0,1398.1 924.8,1397.4 925.6,1396.9 926.4,1396.1 927.2,1395.0 928.0,1394.0 928.8,1394.0 929.6,1394.2 930.4,1393.8 931.2,1392.9 932.0,1392.7 932.8,1393.5 933.6,1393.8 934.4,1394.2 935.2,1395.3 936.0,1396.2 936.8,1397.0 937.6,1398.3 938.4,1399.5 939.2,1399.9 940.0,1400.7 940.8,1402.0 941.6,1402.5 942.4,1402.3 943.2,1402.1 944.0,1401.9 944.8,1402.3 945.6,1403.1 946.4,1403.3 947.2,1403.5 948.0,1403.5 948.8,1403.1 949.6,1403.2 950.4,1403.7 951.2,1403.9 952.0,1403.9 952.8,1403.5 953.6,1403.2 954.4,1402.9 955.2,1402.3 956.0,1402.1 956.8,1402.7 957.6,1402.9 958.4,1402.3 959.2,1401.7 960.0,1401.7 960.8,1401.7 961.6,1401.1 962.4,1400.8 963.2,1401.6 964.0,1402.4 964.8,1402.3 965.6,1401.9 966.4,1402.1 967.2,1401.9 968.0,1401.1 968.8,1401.6 969.6,1402.5 970.4,1402.9 971.2,1403.2 972.0,1403.0 972.8,1402.6 973.6,1402.5 974.4,1402.5 975.2,1402.2 976.0,1402.3 976.8,1403.1 977.6,1403.4 978.4,1402.7 979.2,1402.3 980.0,1402.7 980.8,1403.0 981.6,1402.9 982.4,1402.7 983.2,1402.2 984.0,1402.0 984.8,1402.4 985.6,1402.9 986.4,1402.7 987.2,1401.7 988.0,1401.6 988.8,1402.0 989.6,1401.5 990.4,1401.4 991.2,1402.1 992.0,1402.3 992.8,1401.9 993.6,1401.8 994.4,1402.0 995.2,1402.1 996.0,1402.0 996.8,1401.5 997.6,1401.3 998.4,1401.7 999.2,1401.8 1000.0,1402.1 1000.8,1402.0 1001.6,1401.5 1002.4,1401.5 1003.2,1401.7 1004.0,1401.7 1004.8,1401.2 1005.6,1401.2 1006.4,1402.1 1007.2,1402.7 1008.0,1402.3 1008.8,1401.3 1009.6,1401.1 1010.4,1401.2 1011.2,1400.5 1012.0,1399.9 1012.8,1400.2 1013.6,1400.3 1014.4,1399.5 1015.2,1398.7 1016.0,1398.7 1016.8,1398.7 1017.6,1398.1 1018.4,1397.4 1019.2,1396.7 1020.0,1395.6 1020.8,1394.4 1021.6,1392.2 1022.4,1387.7 1023.2,1382.5 1024.0,1378.0 1024.8,1373.9 1025.6,1369.6 1026.4,1365.9 1027.2,1363.5 1028.0,1363.4 1028.8,1365.1 1029.6,1368.5 1030.4,1372.6 1031.2,1376.8 1032.0,1380.3 1032.8,1383.0 1033.6,1385.9 1034.4,1388.9 1035.2,1391.8 1036.0,1394.0 1036.8,1395.8 1037.6,1397.3 1038.4,1397.3 1039.2,1395.2 1040.0,1392.0 1040.8,1387.7 1041.6,1382.7 1042.4,1376.7 1043.2,1367.4 1044.0,1356.7 1044.8,1347.1 1045.6,1341.0 1046.4,1341.0 1047.2,1347.0 1048.0,1356.5 1048.8,1367.1 1049.6,1376.6 1050.4,1382.8 1051.2,1388.3 1052.0,1393.0 1052.8,1396.4 1053.6,1397.7 1054.4,1398.4 1055.2,1398.9 1056.0,1399.2 1056.8,1399.4 1057.6,1398.3 1058.4,1397.3 1059.2,1397.3 1060.0,1397.6 1060.8,1398.0 1061.6,1398.0 1062.4,1397.8 1063.2,1397.9 1064.0,1398.0 1064.8,1398.3 1065.6,1398.5 1066.4,1398.3 1067.2,1398.2 1068.0,1398.0 1068.8,1397.6 1069.6,1397.5 1070.4,1398.4 1071.2,1399.6 1072.0,1399.9 1072.8,1399.5 1073.6,1398.8 1074.4,1398.5 1075.2,1398.8 1076.0,1398.6 1076.8,1398.2 1077.6,1398.2 1078.4,1398.2 1079.2,1398.1 1080.0,1398.0 1080.8,1397.8 1081.6,1398.6 1082.4,1399.4 1083.2,1398.9 1084.0,1398.5 1084.8,1398.9 1085.6,1398.7 1086.4,1398.1 1087.2,1398.2 1088.0,1398.6 1088.8,1398.3 1089.6,1398.2 1090.4,1398.1 1091.2,1397.3 1092.0,1396.8 1092.8,1396.9 1093.6,1396.6 1094.4,1395.5 1095.2,1395.1 1096.0,1395.5 1096.8,1395.8 1097.6,1396.1 1098.4,1395.7 1099.2,1395.1 1100.0,1395.3 1100.8,1395.4 1101.6,1395.5 1102.4,1395.8 1103.2,1395.4 1104.0,1395.1 1104.8,1395.5 1105.6,1395.4 1106.4,1394.4 1107.2,1392.8 1108.0,1390.8 1108.8,1388.7 1109.6,1386.4 1110.4,1383.6 1111.2,1381.0 1112.0,1378.9 1112.8,1378.1 1113.6,1379.3 1114.4,1380.8 1115.2,1383.0 1116.0,1385.5 1116.8,1387.7 1117.6,1389.4 1118.4,1391.4 1119.2,1393.4 1120.0,1395.2 1120.8,1396.8 1121.6,1397.6 1122.4,1397.5 1123.2,1397.1 1124.0,1396.5 1124.8,1396.5 1125.6,1396.8 1126.4,1396.5 1127.2,1396.3 1128.0,1396.7 1128.8,1396.1 1129.6,1394.8 1130.4,1394.2 1131.2,1394.3 1132.0,1394.1 1132.8,1393.5 1133.6,1393.1 1134.4,1392.7 1135.2,1392.2 1136.0,1391.6 1136.8,1391.3 1137.6,1391.6 1138.4,1391.2 1139.2,1389.9 1140.0,1388.8 1140.8,1388.6 1141.6,1388.3 1142.4,1387.5 1143.2,1386.9 1144.0,1386.4 1144.8,1385.6 1145.6,1384.8 1146.4,1384.0 1147.2,1382.9 1148.0,1382.2 1148.8,1381.8 1149.6,1381.0 1150.4,1379.7 1151.2,1378.2 1152.0,1377.1 1152.8,1376.0 1153.6,1374.2 1154.4,1372.1 1155.2,1369.7 1156.0,1367.2 1156.8,1364.1 1157.6,1360.6 1158.4,1356.7 1159.2,1352.3 1160.0,1347.2 1160.8,1338.5 1161.6,1326.1 1162.4,1310.9 1163.2,1294.0 1164.0,1276.1 1164.8,1254.1 1165.6,1228.6 1166.4,1201.2 1167.2,1171.6 1168.0,1139.1 1168.8,1104.5 1169.6,1066.4 1170.4,1025.9 1171.2,986.1 1172.0,950.2 1172.8,922.5 1173.6,907.9 1174.4,907.4 1175.2,918.0 1176.0,939.5 1176.8,968.4 1177.6,1001.4 1178.4,1035.2 1179.2,1068.2 1180.0,1101.1 1180.8,1134.2 1181.6,1168.1 1182.4,1200.8 1183.2,1232.5 1184.0,1264.5 1184.8,1292.1 1185.6,1311.1 1186.4,1324.8 1187.2,1336.7 1188.0,1346.7 1188.8,1354.5 1189.6,1360.1 1190.4,1363.7 1191.2,1366.8 1192.0,1369.8 1192.8,1372.5 1193.6,1374.9 1194.4,1377.0 1195.2,1378.9 1196.0,1380.9 1196.8,1382.7 1197.6,1383.6 1198.4,1383.6 1199.2,1383.4 1200.0,1382.5 1200.8,1381.0 1201.6,1378.9 1202.4,1376.6 1203.2,1374.5 1204.0,1371.4 1204.8,1367.7 1205.6,1364.3 1206.4,1361.8 1207.2,1361.7 1208.0,1363.9 1208.8,1367.6 1209.6,1371.9 1210.4,1375.8 1211.2,1378.4 1212.0,1380.7 1212.8,1382.9 1213.6,1384.8 1214.4,1386.5 1215.2,1388.0 1216.0,1388.8 1216.8,1389.0 1217.6,1389.6 1218.4,1389.8 1219.2,1389.5 1220.0,1389.8 1220.8,1389.5 1221.6,1389.5 1222.4,1390.2 1223.2,1389.9 1224.0,1389.4 1224.8,1389.8 1225.6,1390.7 1226.4,1390.8 1227.2,1390.4 1228.0,1390.5 1228.8,1390.5 1229.6,1390.3 1230.4,1390.3 1231.2,1390.1 1232.0,1389.5 1232.8,1388.9 1233.6,1388.3 1234.4,1387.4 1235.2,1386.2 1236.0,1385.3 1236.8,1384.5 1237.6,1383.2 1238.4,1381.5 1239.2,1379.6 1240.0,1377.7 1240.8,1376.1 1241.6,1374.7 1242.4,1374.2 1243.2,1375.3 1244.0,1377.0 1244.8,1378.7 1245.6,1379.9 1246.4,1381.3 1247.2,1383.1 1248.0,1384.8 1248.8,1386.0 1249.6,1386.7 1250.4,1387.0 1251.2,1386.9 1252.0,1386.6 1252.8,1385.9 1253.6,1384.9 1254.4,1384.5 1255.2,1384.1 1256.0,1383.4 1256.8,1382.4 1257.6,1381.2 1258.4,1380.2 1259.2,1378.9 1260.0,1377.5 1260.8,1376.2 1261.6,1375.1 1262.4,1373.5 1263.2,1371.0 1264.0,1367.6 1264.8,1363.5 1265.6,1358.7 1266.4,1353.2 1267.2,1346.9 1268.0,1338.0 1268.8,1326.2 1269.6,1311.9 1270.4,1296.0 1271.2,1278.6 1272.0,1255.9 1272.8,1229.8 1273.6,1204.7 1274.4,1181.0 1275.2,1159.1 1276.0,1143.1 1276.8,1130.7 1277.6,1120.4 1278.4,1112.2 1279.2,1108.1 1280.0,1108.1 1280.8,1112.8 1281.6,1123.2 1282.4,1136.1 1283.2,1149.7 1284.0,1163.2 1284.8,1178.5 1285.6,1196.9 1286.4,1217.3 1287.2,1237.9 1288.0,1257.0 1288.8,1275.4 1289.6,1294.0 1290.4,1311.4 1291.2,1326.1 1292.0,1336.6 1292.8,1344.6 1293.6,1351.9 1294.4,1358.3 1295.2,1363.7 1296.0,1368.0 1296.8,1371.2 1297.6,1373.2 1298.4,1374.9 1299.2,1376.4 1300.0,1377.9 1300.8,1379.3 1301.6,1380.6 1302.4,1382.0 1303.2,1383.2 1304.0,1383.8 1304.8,1384.1 1305.6,1384.6 1306.4,1385.3 1307.2,1386.0 1308.0,1386.5 1308.8,1387.1 1309.6,1387.3 1310.4,1386.7 1311.2,1387.1 1312.0,1387.9 1312.8,1387.6 1313.6,1387.2 1314.4,1387.1 1315.2,1387.0 1316.0,1387.8 1316.8,1388.8 1317.6,1388.2 1318.4,1386.8 1319.2,1386.4 1320.0,1386.8 1320.8,1386.9 1321.6,1386.3 1322.4,1386.0 1323.2,1386.4 1324.0,1386.1 1324.8,1385.1 1325.6,1384.1 1326.4,1383.5 1327.2,1383.3 1328.0,1382.1 1328.8,1379.3 1329.6,1375.7 1330.4,1372.4 1331.2,1369.5 1332.0,1366.1 1332.8,1363.1 1333.6,1361.9 1334.4,1362.2 1335.2,1362.3 1336.0,1363.2 1336.8,1364.4 1337.6,1365.6 1338.4,1366.3 1339.2,1365.9 1340.0,1365.0 1340.8,1361.7 1341.6,1356.8 1342.4,1350.8 1343.2,1344.1 1344.0,1337.2 1344.8,1329.7 1345.6,1320.0 1346.4,1308.6 1347.2,1296.0 1348.0,1282.6 1348.8,1268.9 1349.6,1255.3 1350.4,1240.6 1351.2,1226.0 1352.0,1215.0 1352.8,1207.4 1353.6,1200.9 1354.4,1198.1 1355.2,1198.1 1356.0,1202.8 1356.8,1211.7 1357.6,1223.4 1358.4,1236.7 1359.2,1250.3 1360.0,1264.0 1360.8,1277.2 1361.6,1289.0 1362.4,1300.7 1363.2,1312.1 1364.0,1323.0 1364.8,1332.8 1365.6,1341.3 1366.4,1347.9 1367.2,1353.1 1368.0,1358.1 1368.8,1362.7 1369.6,1366.9 1370.4,1370.8 1371.2,1374.2 1372.0,1377.1 1372.8,1379.5 1373.6,1381.4 1374.4,1382.7 1375.2,1384.0 1376.0,1384.8 1376.8,1385.4 1377.6,1386.1 1378.4,1387.0 1379.2,1387.8 1380.0,1388.5 1380.8,1389.2 1381.6,1388.9 1382.4,1388.5 1383.2,1388.6 1384.0,1388.9 1384.8,1389.7 1385.6,1390.5 1386.4,1390.0 1387.2,1389.1 1388.0,1389.4 1388.8,1390.1 1389.6,1389.9 1390.4,1389.5 1391.2,1390.0 1392.0,1390.4 1392.8,1389.5 1393.6,1388.3 1394.4,1387.5 1395.2,1386.6 1396.0,1385.5 1396.8,1384.6 1397.6,1384.2 1398.4,1384.0 1399.2,1384.4 1400.0,1385.5 1400.8,1386.4 1401.6,1386.7 1402.4,1387.2 1403.2,1388.2 1404.0,1389.2 1404.8,1389.8 1405.6,1390.0 1406.4,1390.1 1407.2,1390.2 1408.0,1390.8 1408.8,1391.5 1409.6,1391.3 1410.4,1390.9 1411.2,1391.0 1412.0,1391.4 1412.8,1391.4 1413.6,1391.1 1414.4,1390.6 1415.2,1390.2 1416.0,1390.7 1416.8,1391.3 1417.6,1390.6 1418.4,1390.8 1419.2,1391.3 1420.0,1391.1 1420.8,1390.9 1421.6,1391.2 1422.4,1391.3 1423.2,1390.9 1424.0,1390.6 1424.8,1390.8 1425.6,1391.0 1426.4,1391.2 1427.2,1391.8 1428.0,1392.3 1428.8,1392.2 1429.6,1392.0 1430.4,1392.4 1431.2,1392.8 1432.0,1393.0 1432.8,1392.8 1433.6,1392.2 1434.4,1392.1 1435.2,1392.0 1436.0,1391.6 1436.8,1391.6 1437.6,1391.6 1438.4,1391.2 1439.2,1390.7 1440.0,1390.9 1440.8,1391.7 1441.6,1392.2 1442.4,1392.2 1443.2,1391.8 1444.0,1391.4 1444.8,1391.4 1445.6,1391.7 1446.4,1392.0 1447.2,1392.6 1448.0,1393.0 1448.8,1392.2 1449.6,1391.4 1450.4,1391.3 1451.2,1391.3 1452.0,1391.9 1452.8,1392.8 1453.6,1392.5 1454.4,1392.0 1455.2,1392.7 1456.0,1393.0 1456.8,1392.3 1457.6,1391.8 1458.4,1391.9 1459.2,1392.3 1460.0,1392.6 1460.8,1392.8 1461.6,1392.9 1462.4,1392.4 1463.2,1390.9 1464.0,1388.9 1464.8,1387.0 1465.6,1385.1 1466.4,1383.3 1467.2,1382.4 1468.0,1383.2 1468.8,1384.3 1469.6,1385.7 1470.4,1387.3 1471.2,1388.2 1472.0,1388.7 1472.8,1389.5 1473.6,1390.3 1474.4,1390.1 1475.2,1389.8 1476.0,1390.3 1476.8,1391.0 1477.6,1391.2 1478.4,1391.8 1479.2,1392.2 1480.0,1391.5 1480.8,1391.5 1481.6,1392.1 1482.4,1391.5 1483.2,1390.9 1484.0,1391.4 1484.8,1391.5 1485.6,1391.3 1486.4,1391.4 1487.2,1391.1 1488.0,1390.8 1488.8,1391.3 1489.6,1391.5 1490.4,1391.1 1491.2,1391.1 1492.0,1391.6 1492.8,1391.9 1493.6,1391.2 1494.4,1390.9 1495.2,1390.5 1496.0,1390.2 1496.8,1390.4 1497.6,1390.6 1498.4,1390.5 1499.2,1389.9 1500.0,1389.2 1500.8,1389.2 1501.6,1389.6 1502.4,1389.9 1503.2,1390.0 1504.0,1389.8 1504.8,1389.8 1505.6,1389.7 1506.4,1388.7 1507.2,1387.6 1508.0,1387.1 1508.8,1387.5 1509.6,1388.0 1510.4,1387.8 1511.2,1387.6 1512.0,1387.5 1512.8,1387.2 1513.6,1386.3 1514.4,1385.1 1515.2,1384.2 1516.0,1383.4 1516.8,1382.5 1517.6,1381.4 1518.4,1380.6 1519.2,1379.5 1520.0,1378.0 1520.8,1376.8 1521.6,1375.5 1522.4,1373.9 1523.2,1371.9 1524.0,1369.3 1524.8,1366.3 1525.6,1362.8 1526.4,1358.8 1527.2,1354.2 1528.0,1346.9 1528.8,1334.7 1529.6,1319.8 1530.4,1304.4 1531.2,1290.8 1532.0,1278.8 1532.8,1267.0 1533.6,1255.9 1534.4,1246.0 1535.2,1237.6 1536.0,1229.3 1536.8,1221.1 1537.6,1214.3 1538.4,1210.5 1539.2,1210.2 1540.0,1212.0 1540.8,1216.6 1541.6,1223.3 1542.4,1231.4 1543.2,1239.7 1544.0,1248.5 1544.8,1258.6 1545.6,1269.7 1546.4,1281.1 1547.2,1292.0 1548.0,1301.8 1548.8,1310.6 1549.6,1319.9 1550.4,1328.5 1551.2,1335.0 1552.0,1337.9 1552.8,1337.1 1553.6,1335.9 1554.4,1334.1 1555.2,1331.8 1556.0,1329.7 1556.8,1327.4 1557.6,1324.3 1558.4,1321.0 1559.2,1317.7 1560.0,1314.8 1560.8,1312.9 1561.6,1313.0 1562.4,1314.4 1563.2,1317.0 1564.0,1320.6 1564.8,1324.7 1565.6,1329.1 1566.4,1333.6 1567.2,1337.8 1568.0,1341.3 1568.8,1344.7 1569.6,1348.5 1570.4,1352.4 1571.2,1356.1 1572.0,1359.5 1572.8,1362.5 1573.6,1364.9 1574.4,1366.3 1575.2,1367.5 1576.0,1368.7 1576.8,1369.0 1577.6,1369.3 1578.4,1370.4 1579.2,1371.8 1580.0,1372.2 1580.8,1372.6 1581.6,1373.8 1582.4,1374.7 1583.2,1376.1 1584.0,1377.9 1584.8,1379.7 1585.6,1381.5 1586.4,1383.4 1587.2,1385.4 1588.0,1387.1 1588.8,1388.7 1589.6,1390.7 1590.4,1392.1 1591.2,1392.2 1592.0,1391.8 1592.8,1392.2 1593.6,1392.8 1594.4,1392.4 1595.2,1391.5 1596.0,1390.8 1596.8,1390.6 1597.6,1390.0 1598.4,1390.1 1599.2,1390.8 1600.0,1390.9 1600.8,1391.0 1601.6,1391.7 1602.4,1392.4 1603.2,1392.3 1604.0,1391.9 1604.8,1391.7 1605.6,1391.2 1606.4,1391.2 1607.2,1391.4 1608.0,1390.9 1608.8,1390.7 1609.6,1390.4 1610.4,1390.0 1611.2,1389.1 1612.0,1387.6 1612.8,1386.2 1613.6,1384.9 1614.4,1383.3 1615.2,1381.9 1616.0,1380.9 1616.8,1380.1 1617.6,1378.9 1618.4,1378.2 1619.2,1378.9 1620.0,1380.5 1620.8,1382.5 1621.6,1384.4 1622.4,1385.9 1623.2,1387.3 1624.0,1388.6 1624.8,1389.6 1625.6,1390.4 1626.4,1390.8 1627.2,1391.0 1628.0,1391.2 1628.8,1391.4 1629.6,1391.8 1630.4,1391.8 1631.2,1391.2 1632.0,1391.0 1632.8,1391.4 1633.6,1392.3 1634.4,1392.9 1635.2,1392.5 1636.0,1392.3 1636.8,1392.2 1637.6,1392.1 1638.4,1392.4 1639.2,1391.7 1640.0,1391.6 1640.8,1393.4 1641.6,1393.6 1642.4,1392.5 1643.2,1392.4 1644.0,1392.6 1644.8,1392.3 1645.6,1391.8 1646.4,1391.7 1647.2,1391.6 1648.0,1391.0 1648.8,1390.2 1649.6,1389.4 1650.4,1388.5 1651.2,1387.2 1652.0,1385.6 1652.8,1384.0 1653.6,1382.6 1654.4,1381.6 1655.2,1380.5 1656.0,1379.8 1656.8,1379.8 1657.6,1380.8 1658.4,1382.5 1659.2,1384.2 1660.0,1385.7 1660.8,1387.3 1661.6,1388.8 1662.4,1390.0 1663.2,1391.1 1664.0,1392.2 1664.8,1392.8 1665.6,1393.5 1666.4,1393.9 1667.2,1393.0 1668.0,1391.9 1668.8,1391.2 1669.6,1390.5 1670.4,1390.0 1671.2,1389.7 1672.0,1389.7 1672.8,1389.7 1673.6,1389.5 1674.4,1388.8 1675.2,1387.9 1676.0,1387.6 1676.8,1387.8 1677.6,1387.9 1678.4,1387.9 1679.2,1387.9 1680.0,1387.8 1680.8,1387.8 1681.6,1388.7 1682.4,1389.4 1683.2,1389.3 1684.0,1390.2 1684.8,1391.1 1685.6,1391.2 1686.4,1391.7 1687.2,1392.2 1688.0,1392.2 1688.8,1392.3 1689.6,1392.0 1690.4,1391.8 1691.2,1392.0 1692.0,1392.3 1692.8,1392.6 1693.6,1392.3 1694.4,1392.3 1695.2,1393.2 1696.0,1393.5 1696.8,1392.9 1697.6,1392.3 1698.4,1392.3 1699.2,1392.6 1700.0,1392.2 1700.8,1391.7 1701.6,1392.8 1702.4,1393.2 1703.2,1392.2 1704.0,1392.2 1704.8,1392.4 1705.6,1392.4 1706.4,1392.4 1707.2,1391.8 1708.0,1392.1 1708.8,1392.6 1709.6,1392.1 1710.4,1391.8 1711.2,1391.7 1712.0,1391.3 1712.8,1390.5 1713.6,1389.2 1714.4,1387.9 1715.2,1386.8 1716.0,1386.1 1716.8,1385.0 1717.6,1383.8 1718.4,1383.3 1719.2,1382.9 1720.0,1382.8 1720.8,1383.0 1721.6,1382.2 1722.4,1382.2 1723.2,1383.1 1724.0,1383.5 1724.8,1383.7 1725.6,1383.3 1726.4,1382.9 1727.2,1383.5 1728.0,1384.4 1728.8,1384.6 1729.6,1384.3 1730.4,1384.3 1731.2,1384.4 1732.0,1385.0 1732.8,1385.9 1733.6,1386.1 1734.4,1386.2 1735.2,1387.2 1736.0,1388.5 1736.8,1389.4 1737.6,1389.9 1738.4,1390.5 1739.2,1391.0 1740.0,1391.0 1740.8,1391.4 1741.6,1392.2 1742.4,1392.2 1743.2,1392.4 1744.0,1392.8 1744.8,1392.5 1745.6,1392.5 1746.4,1393.0 1747.2,1392.6 1748.0,1392.1 1748.8,1392.3 1749.6,1392.2 1750.4,1391.9 1751.2,1392.0 1752.0,1391.7 1752.8,1391.3 1753.6,1391.7 1754.4,1392.0 1755.2,1391.5 1756.0,1391.2 1756.8,1391.5 1757.6,1392.0 1758.4,1391.8 1759.2,1391.6 1760.0,1391.7 1760.8,1391.5 1761.6,1391.8 1762.4,1392.2 1763.2,1391.5 1764.0,1390.6 1764.8,1389.4 1765.6,1387.6 1766.4,1386.0 1767.2,1384.9 1768.0,1383.4 1768.8,1381.6 1769.6,1380.2 1770.4,1379.6 1771.2,1379.8 1772.0,1380.7 1772.8,1382.0 1773.6,1383.2 1774.4,1384.3 1775.2,1385.3 1776.0,1386.2 1776.8,1386.9 1777.6,1388.1 1778.4,1389.4 1779.2,1389.8 1780.0,1389.7 1780.8,1389.7 1781.6,1389.7 1782.4,1390.1 1783.2,1390.1 1784.0,1389.4 1784.8,1389.5 1785.6,1389.7 1786.4,1389.2 1787.2,1388.7 1788.0,1388.1 1788.8,1387.8 1789.6,1388.3 1790.4,1388.8 1791.2,1388.1 1792.0,1387.3 1792.8,1387.3 1793.6,1387.6 1794.4,1388.0 1795.2,1388.6 1796.0,1389.2 1796.8,1389.5 1797.6,1389.8 1798.4,1390.2 1799.2,1390.2 1800.0,1390.2 1800.8,1390.7 1801.6,1391.4 1802.4,1391.2 1803.2,1391.3 1804.0,1392.1 1804.8,1392.2 1805.6,1392.0 1806.4,1392.1 1807.2,1392.3 1808.0,1392.2 1808.8,1391.6 1809.6,1391.7 1810.4,1392.2 1811.2,1392.3 1812.0,1392.0 1812.8,1391.7 1813.6,1391.7 1814.4,1392.3 1815.2,1392.5 1816.0,1392.3 1816.8,1392.8 1817.6,1392.8 1818.4,1392.4 1819.2,1392.1 1820.0,1391.4 1820.8,1390.8 1821.6,1391.1 1822.4,1391.6 1823.2,1391.7 1824.0,1391.6 1824.8,1391.2 1825.6,1390.7 1826.4,1390.6 1827.2,1390.2 1828.0,1389.9 1828.8,1389.6 1829.6,1389.0 1830.4,1388.5 1831.2,1388.4 1832.0,1388.6 1832.8,1388.7 1833.6,1388.1 1834.4,1387.2 1835.2,1386.6 1836.0,1386.7 1836.8,1386.5 1837.6,1386.2 1838.4,1386.6 1839.2,1386.3 1840.0,1386.0 1840.8,1386.4 1841.6,1386.8 1842.4,1386.8 1843.2,1386.8 1844.0,1386.8 1844.8,1387.2 1845.6,1387.2 1846.4,1386.9 1847.2,1387.0 1848.0,1386.8 1848.8,1386.2 1849.6,1385.9 1850.4,1386.1 1851.2,1386.1 1852.0,1385.8 1852.8,1385.9 1853.6,1386.0 1854.4,1385.1 1855.2,1384.2 1856.0,1384.2 1856.8,1384.0 1857.6,1383.1 1858.4,1382.1 1859.2,1381.1 1860.0,1380.6 1860.8,1380.0 1861.6,1378.9 1862.4,1377.8 1863.2,1376.9 1864.0,1375.6 1864.8,1373.8 1865.6,1371.7 1866.4,1369.8 1867.2,1368.1 1868.0,1366.2 1868.8,1364.7 1869.6,1363.9 1870.4,1364.1 1871.2,1365.1 1872.0,1365.5 1872.8,1364.8 1873.6,1365.0 1874.4,1366.5 1875.2,1367.6 1876.0,1368.3 1876.8,1368.7 1877.6,1369.6 1878.4,1371.1 1879.2,1373.0 1880.0,1375.2 1880.8,1377.5 1881.6,1379.5 1882.4,1381.3 1883.2,1382.8 1884.0,1384.3 1884.8,1386.2 1885.6,1387.9 1886.4,1388.9 1887.2,1389.5 1888.0,1390.4 1888.8,1390.9 1889.6,1390.3 1890.4,1390.2 1891.2,1390.8 1892.0,1390.6 1892.8,1390.1 1893.6,1390.2 1894.4,1390.4 1895.2,1390.8 1896.0,1391.2 1896.8,1391.6 1897.6,1391.1 1898.4,1390.4 1899.2,1390.8 1900.0,1391.3 1900.8,1391.3 1901.6,1391.1 1902.4,1390.3 1903.2,1390.2 1904.0,1390.5 1904.8,1389.8 1905.6,1389.6 1906.4,1390.4 1907.2,1390.5 1908.0,1390.1 1908.8,1389.8 1909.6,1389.7 1910.4,1390.1 1911.2,1390.7 1912.0,1390.7 1912.8,1390.4 1913.6,1390.8 1914.4,1390.8 1915.2,1390.9 1916.0,1391.6 1916.8,1391.5 1917.6,1391.5 1918.4,1392.2 1919.2,1392.0 1920.0,1392.0 1920.8,1392.6 1921.6,1392.8 1922.4,1392.6 1923.2,1392.6 1924.0,1392.6 1924.8,1392.7 1925.6,1392.5 1926.4,1392.8 1927.2,1393.6 1928.0,1393.3 1928.8,1393.3 1929.6,1393.7 1930.4,1393.0 1931.2,1392.3 1932.0,1392.2 1932.8,1392.1 1933.6,1392.6 1934.4,1392.7 1935.2,1391.8 1936.0,1391.5 1936.8,1391.8 1937.6,1391.7 1938.4,1391.5 1939.2,1391.4 1940.0,1390.9 1940.8,1391.0 1941.6,1391.3 1942.4,1391.4 1943.2,1391.2 1944.0,1391.0 1944.8,1391.1 1945.6,1390.9 1946.4,1390.2 1947.2,1389.7 1948.0,1389.8 1948.8,1390.2 1949.6,1390.1 1950.4,1390.5 1951.2,1391.0 1952.0,1391.2 1952.8,1390.7 1953.6,1389.6 1954.4,1389.0 1955.2,1389.2 1956.0,1389.1 1956.8,1388.7 1957.6,1388.2 1958.4,1388.0 1959.2,1387.8 1960.0,1387.2 1960.8,1386.8 1961.6,1386.3 1962.4,1385.8 1963.2,1385.5 1964.0,1385.2 1964.8,1384.9 1965.6,1384.9 1966.4,1384.7 1967.2,1384.6 1968.0,1384.4 1968.8,1384.8 1969.6,1385.5 1970.4,1385.1 1971.2,1384.6 1972.0,1385.0 1972.8,1386.1 1973.6,1387.1 1974.4,1387.2 1975.2,1387.0 1976.0,1386.8 1976.8,1387.3 1977.6,1388.2 1978.4,1388.4 1979.2,1388.1 1980.0,1388.3 1980.8,1388.5 1981.6,1388.3 1982.4,1388.6 1983.2,1388.5 1984.0,1388.4 1984.8,1389.4 1985.6,1390.0 1986.4,1389.6 1987.2,1389.7 1988.0,1390.6 1988.8,1390.9 1989.6,1391.0 1990.4,1390.9 1991.2,1390.3 1992.0,1390.1 1992.8,1389.8 1993.6,1389.4 1994.4,1389.2 1995.2,1389.2 1996.0,1389.2 1996.8,1388.6 1997.6,1388.0 1998.4,1387.7 1999.2,1387.3 2000.0,1386.8 2000.8,1386.5 2001.6,1386.5 2002.4,1386.4 2003.2,1386.3 2004.0,1386.9 2004.8,1387.9 2005.6,1388.3 2006.4,1388.0 2007.2,1388.4 2008.0,1389.2 2008.8,1389.2 2009.6,1389.0 2010.4,1389.4 2011.2,1390.0 2012.0,1390.3 2012.8,1390.5 2013.6,1390.5 2014.4,1390.1 2015.2,1389.7 2016.0,1389.9 2016.8,1390.3 2017.6,1389.9 2018.4,1389.7 2019.2,1390.0 2020.0,1389.7 2020.8,1388.6 2021.6,1388.0 2022.4,1387.7 2023.2,1387.7 2024.0,1387.5 2024.8,1386.9 2025.6,1386.3 2026.4,1385.9 2027.2,1385.6 2028.0,1385.8 2028.8,1385.3 2029.6,1384.0 2030.4,1383.3 2031.2,1382.7 2032.0,1381.7 2032.8,1380.5 2033.6,1379.3 2034.4,1378.2 2035.2,1377.3 2036.0,1376.3 2036.8,1375.0 2037.6,1373.6 2038.4,1371.9 2039.2,1370.3 2040.0,1369.1 2040.8,1368.0 2041.6,1367.0 2042.4,1366.7 2043.2,1366.4 2044.0,1365.8 2044.8,1366.5 2045.6,1368.0 2046.4,1369.0 2047.2,1369.6 2048.0,1370.6 2048.8,1371.8 2049.6,1372.8 2050.4,1373.7 2051.2,1374.8 2052.0,1375.8 2052.8,1377.0 2053.6,1378.5 2054.4,1379.4 2055.2,1380.4 2056.0,1381.6 2056.8,1382.3 2057.6,1382.5 2058.4,1382.6 2059.2,1383.2 2060.0,1384.2 2060.8,1384.3 2061.6,1383.9 2062.4,1384.4 2063.2,1385.1 2064.0,1385.7 2064.8,1386.3 2065.6,1386.1 2066.4,1385.4 2067.2,1385.0 2068.0,1384.9 2068.8,1385.3 2069.6,1386.1 2070.4,1386.6 2071.2,1385.4 2072.0,1384.1 2072.8,1384.2 2073.6,1384.4 2074.4,1383.9 2075.2,1383.7 2076.0,1384.0 2076.8,1384.1 2077.6,1383.7 2078.4,1383.5 2079.2,1383.6 2080.0,1383.2 2080.8,1382.5 2081.6,1381.9 2082.4,1381.2 2083.2,1379.9 2084.0,1378.1 2084.8,1376.3 2085.6,1373.7 2086.4,1370.4 2087.2,1366.8 2088.0,1363.1 2088.8,1359.6 2089.6,1356.0 2090.4,1352.0 2091.2,1348.1 2092.0,1344.7 2092.8,1342.1 2093.6,1339.9 2094.4,1338.1 2095.2,1336.6 2096.0,1335.3 2096.8,1334.4 2097.6,1334.1 2098.4,1333.6 2099.2,1333.6 2100.0,1334.6 2100.8,1335.4 2101.6,1335.7 2102.4,1337.0 2103.2,1339.0 2104.0,1341.3 2104.8,1344.2 2105.6,1347.1 2106.4,1350.1 2107.2,1353.1 2108.0,1356.1 2108.8,1359.0 2109.6,1362.1 2110.4,1365.2 2111.2,1367.8 2112.0,1369.9 2112.8,1371.4 2113.6,1372.5 2114.4,1373.7 2115.2,1375.1 2116.0,1376.1 2116.8,1376.7 2117.6,1377.3 2118.4,1378.1 2119.2,1378.9 2120.0,1379.6 2120.8,1380.4 2121.6,1380.9 2122.4,1381.5 2123.2,1382.5 2124.0,1383.7 2124.8,1385.1 2125.6,1386.0 2126.4,1386.2 2127.2,1386.4 2128.0,1386.5 2128.8,1386.1 2129.6,1386.0 2130.4,1385.9 2131.2,1385.7 2132.0,1385.9 2132.8,1385.9 2133.6,1385.3 2134.4,1384.7 2135.2,1385.0 2136.0,1385.4 2136.8,1385.1 2137.6,1385.3 2138.4,1385.2 2139.2,1384.2 2140.0,1384.1 2140.8,1385.0 2141.6,1385.1 2142.4,1384.3 2143.2,1384.4 2144.0,1385.1 2144.8,1385.6 2145.6,1385.9 2146.4,1385.6 2147.2,1385.5 2148.0,1386.0 2148.8,1386.8 2149.6,1386.3 2150.4,1385.8 2151.2,1386.6 2152.0,1387.7 2152.8,1388.3 2153.6,1388.0 2154.4,1388.0 2155.2,1388.7 2156.0,1389.1 2156.8,1389.0 2157.6,1389.2 2158.4,1389.2 2159.2,1389.0 2160.0,1389.2 2160.8,1389.2 2161.6,1389.4 2162.4,1389.8 2163.2,1389.8 2164.0,1390.4 2164.8,1390.7 2165.6,1390.0 2166.4,1389.4 2167.2,1389.4 2168.0,1389.6 2168.8,1389.5 2169.6,1389.1 2170.4,1388.7 2171.2,1388.0 2172.0,1387.4 2172.8,1387.0 2173.6,1387.2 2174.4,1387.1 2175.2,1386.9 2176.0,1387.2 2176.8,1386.4 2177.6,1385.3 2178.4,1385.5 2179.2,1386.0 2180.0,1387.2 2180.8,1387.8 2181.6,1387.1 2182.4,1386.8 2183.2,1387.2 2184.0,1387.7 2184.8,1388.4 2185.6,1388.6 2186.4,1388.5 2187.2,1388.8 2188.0,1388.8 2188.8,1389.1 2189.6,1389.7 2190.4,1389.4 2191.2,1388.6 2192.0,1388.3 2192.8,1388.6 2193.6,1389.0 2194.4,1389.1 2195.2,1388.6 2196.0,1388.9 2196.8,1389.2 2197.6,1389.2 2198.4,1389.3 2199.2,1389.5 2200.0,1389.4 2200.8,1389.3 2201.6,1389.5 2202.4,1389.1 2203.2,1388.5 2204.0,1388.6 2204.8,1388.5 2205.6,1387.9 2206.4,1387.2 2207.2,1386.9 2208.0,1387.1 2208.8,1387.4 2209.6,1387.3 2210.4,1387.2 2211.2,1387.7 2212.0,1387.7 2212.8,1387.1 2213.6,1386.7 2214.4,1386.4 2215.2,1386.4 2216.0,1386.6 2216.8,1386.8 2217.6,1386.5 2218.4,1386.0 2219.2,1386.0 2220.0,1386.0 2220.8,1386.5 2221.6,1387.0 2222.4,1386.5 2223.2,1385.4 2224.0,1384.5 2224.8,1384.2 2225.6,1384.5 2226.4,1384.7 2227.2,1384.1 2228.0,1383.3 2228.8,1382.4 2229.6,1381.6 2230.4,1380.7 2231.2,1379.3 2232.0,1377.9 2232.8,1376.7 2233.6,1375.3 2234.4,1373.4 2235.2,1371.4 2236.0,1369.5 2236.8,1367.8 2237.6,1366.6 2238.4,1365.3 2239.2,1363.8 2240.0,1362.5 2240.8,1361.1 2241.6,1359.6 2242.4,1358.5 2243.2,1357.5 2244.0,1356.9 2244.8,1356.5 2245.6,1355.6 2246.4,1355.8 2247.2,1356.4 2248.0,1356.8 2248.8,1357.7 2249.6,1358.8 2250.4,1359.7 2251.2,1360.7 2252.0,1361.4 2252.8,1362.0 2253.6,1363.6 2254.4,1365.0 2255.2,1365.6 2256.0,1366.0 2256.8,1366.4 2257.6,1367.2 2258.4,1368.1 2259.2,1369.2 2260.0,1370.4 2260.8,1371.0 2261.6,1371.5 2262.4,1372.1 2263.2,1373.2 2264.0,1374.2 2264.8,1374.7 2265.6,1375.7 2266.4,1376.7 2267.2,1376.8 2268.0,1377.0 2268.8,1378.0 2269.6,1379.6 2270.4,1380.5 2271.2,1380.4 2272.0,1380.4 2272.8,1381.2 2273.6,1382.1 2274.4,1382.6 2275.2,1383.7 2276.0,1384.4 2276.8,1384.4 2277.6,1384.7 2278.4,1385.3 2279.2,1385.3 2280.0,1384.8 2280.8,1384.9 2281.6,1384.6 2282.4,1384.3 2283.2,1384.5 2284.0,1384.4 2284.8,1383.9 2285.6,1383.7 2286.4,1384.4 2287.2,1385.8 2288.0,1386.3 2288.8,1386.1 2289.6,1385.7 2290.4,1385.2 2291.2,1385.2 2292.0,1385.1 2292.8,1384.7 2293.6,1384.6 2294.4,1385.0 2295.2,1384.8 2296.0,1384.6 2296.8,1384.8 2297.6,1385.0 2298.4,1385.1 2299.2,1384.7 2300.0,1384.3 2300.8,1384.2 2301.6,1383.9 2302.4,1383.6 2303.2,1383.6 2304.0,1383.9 2304.8,1384.0 2305.6,1383.4 2306.4,1382.2 2307.2,1381.8 2308.0,1382.0 2308.8,1381.8 2309.6,1381.4 2310.4,1381.4 2311.2,1381.6 2312.0,1381.2 2312.8,1380.9 2313.6,1381.5 2314.4,1381.5 2315.2,1381.0 2316.0,1381.0 2316.8,1381.0 2317.6,1381.3 2318.4,1381.1 2319.2,1380.8 2320.0,1381.0 2320.8,1381.4 2321.6,1381.9 2322.4,1382.4 2323.2,1382.5 2324.0,1381.9 2324.8,1381.5 2325.6,1382.3 2326.4,1383.0 2327.2,1384.0 2328.0,1384.9 2328.8,1385.0 2329.6,1384.9 2330.4,1385.2 2331.2,1385.5 2332.0,1385.6 2332.8,1385.7 2333.6,1386.3 2334.4,1387.0 2335.2,1387.3 2336.0,1387.3 2336.8,1387.1 2337.6,1387.0 2338.4,1387.1 2339.2,1387.3 2340.0,1387.5 2340.8,1387.1 2341.6,1386.5 2342.4,1386.9 2343.2,1387.6 2344.0,1387.3 2344.8,1387.4 2345.6,1388.1 2346.4,1388.3 2347.2,1387.8 2348.0,1387.9 2348.8,1388.6 2349.6,1388.4 2350.4,1387.9 2351.2,1387.4 2352.0,1386.7 2352.8,1386.8 2353.6,1387.6 2354.4,1387.8 2355.2,1387.3 2356.0,1386.7 2356.8,1386.6 2357.6,1386.8 2358.4,1387.1 2359.2,1387.9 2360.0,1388.9 2360.8,1389.3 2361.6,1388.5 2362.4,1387.3 2363.2,1386.3 2364.0,1385.8 2364.8,1386.6 2365.6,1387.7 2366.4,1388.3 2367.2,1388.5 2368.0,1388.4 2368.8,1388.4 2369.6,1388.8 2370.4,1388.7 2371.2,1388.0 2372.0,1387.5 2372.8,1387.6"/>
</g>
<g id="axes" stroke="#000" stroke-width="6" fill="none">
<rect x="473.0" y="628.0" width="1903.0" height="1534.0"/>
<line x1="473.00" y1="2162.0" x2="473.00" y2="2177"/>
<line x1="608.93" y1="2162.0" x2="608.93" y2="2192"/>
<line x1="744.86" y1="2162.0" x2="744.86" y2="2177"/>
<line x1="880.79" y1="2162.0" x2="880.79" y2="2192"/>
<line x1="1016.71" y1="2162.0" x2="1016.71" y2="2177"/>
<line x1="1152.64" y1="2162.0" x2="1152.64" y2="2192"/>
<line x1="1288.57" y1="2162.0" x2="1288.57" y2="2177"/>
<line x1="1424.50" y1="2162.0" x2="1424.50" y2="2192"/>
<line x1="1560.43" y1="2162.0" x2="1560.43" y2="2177"/>
<line x1="1696.36" y1="2162.0" x2="1696.36" y2="2192"/>
<line x1="1832.29" y1="2162.0" x2="1832.29" y2="2177"/>
<line x1="1968.21" y1="2162.0" x2="1968.21" y2="2192"/>
<line x1="2104.14" y1="2162.0" x2="2104.14" y2="2177"/>
<line x1="2240.07" y1="2162.0" x2="2240.07" y2="2192"/>
<line x1="2376.00" y1="2162.0" x2="2376.00" y2="2177"/>
</g>
<g id="ticklabels">
<text class="tk" transform="translate(608.43,2264.30) scale(0.945,1.018)">20</text>
<text class="tk" transform="translate(880.29,2264.30) scale(0.945,1.018)">30</text>
<text class="tk" transform="translate(1152.14,2264.30) scale(0.945,1.018)">40</text>
<text class="tk" transform="translate(1424.00,2264.30) scale(0.945,1.018)">50</text>
<text class="tk" transform="translate(1695.86,2264.30) scale(0.945,1.018)">60</text>
<text class="tk" transform="translate(1967.71,2264.30) scale(0.945,1.018)">70</text>
<text class="tk" transform="translate(2239.57,2264.30) scale(0.945,1.018)">80</text>
</g>
<g id="xtitle">
<text class="ttl" transform="translate(1212.8,2392)"><tspan class="t2">2</tspan><tspan class="th" x="45.6">θ</tspan><tspan class="tw" x="87.7"> (degree)</tspan></text>
</g>
<g id="hkl">
<text class="hr" transform="translate(559.9,612.6) rotate(-90)">(<tspan class="hd">100</tspan>)</text>
<text class="hr" transform="translate(792.7,617.9) rotate(-90)">(<tspan class="hd">001</tspan>)</text>
<text class="hr" transform="translate(882.8,468.7) rotate(-90)">(<tspan class="hd">110</tspan>)</text>
<text class="hr" transform="translate(956.6,472.4) rotate(-90)">(<tspan class="hd">101</tspan>)</text>
<text class="hr" transform="translate(1038.3,464.0) rotate(-90)">(<tspan class="hd">200</tspan>)</text>
<text class="hr" transform="translate(1182.7,466.1) rotate(-90)">(<tspan class="hd">111</tspan>)</text>
<text class="hr" transform="translate(1334.4,466.1) rotate(-90)">(<tspan class="hd">201</tspan>)</text>
<text class="hr" transform="translate(1412.5,464.0) rotate(-90)">(<tspan class="hd">210</tspan>)</text>
<text class="hr" transform="translate(1569.9,466.1) rotate(-90)">(<tspan class="hd">002</tspan>)</text>
<text class="hg" transform="translate(641.1,624.2) rotate(-90)">(<tspan class="hd">101</tspan>)</text>
<text class="hg" transform="translate(864.5,615.8) rotate(-90)">(<tspan class="hd">220</tspan>)</text>
<text class="hg" transform="translate(970.2,623.1) rotate(-90)">(<tspan class="hd">310</tspan>)</text>
<text class="hg" transform="translate(1066.5,617.9) rotate(-90)">(<tspan class="hd">301</tspan>)</text>
<text class="hg" transform="translate(1134.6,617.9) rotate(-90)">(<tspan class="hd">112</tspan>)</text>
<text class="hg" transform="translate(1223.5,620.0) rotate(-90)">(<tspan class="hd">400</tspan>)</text>
<text class="hg" transform="translate(1299.5,625.2) rotate(-90)">(<tspan class="hd">330</tspan>)</text>
<text class="hg" transform="translate(1370.4,620.0) rotate(-90)">(<tspan class="hd">420</tspan>)</text>
<text class="hg" transform="translate(1437.0,622.1) rotate(-90)">(<tspan class="hd">312</tspan>)</text>
<text class="hg" transform="translate(1540.2,620.0) rotate(-90)">(<tspan class="hd">510</tspan>)</text>
<text class="hg" transform="translate(1611.1,617.9) rotate(-90)">(<tspan class="hd">402</tspan>)</text>
<text class="hg" transform="translate(1672.2,618.9) rotate(-90)">(<tspan class="hd">332</tspan>)</text>
<text class="hg" transform="translate(1746.5,617.9) rotate(-90)">(<tspan class="hd">422</tspan>)</text>
<text class="hg" transform="translate(1874.8,623.1) rotate(-90)">(<tspan class="hd">512</tspan>)</text>
<text class="hg" transform="translate(1956.4,623.1) rotate(-90)">(<tspan class="hd">620</tspan>)</text>
<text class="hg" transform="translate(2077.5,620.0) rotate(-90)">(<tspan class="hd">532</tspan>)</text>
<text class="hg" transform="translate(2134.0,618.9) rotate(-90)">(<tspan class="hd">004</tspan>)</text>
<text class="hg" transform="translate(2206.6,623.1) rotate(-90)">(<tspan class="hd">710</tspan>)</text>
<text class="hg" transform="translate(2270.0,623.1) rotate(-90)">(<tspan class="hd">622</tspan>)</text>
</g>
<g id="legend">
<line x1="46.5" y1="61.2" x2="229.7" y2="61.2" stroke="#ab6cdb" stroke-width="5.9"/>
<line x1="46.5" y1="180.8" x2="229.7" y2="180.8" stroke="#1366dc" stroke-width="5.9"/>
<text class="lg" transform="translate(244.6,89.0)"><tspan class="cap">N</tspan><tspan x="48.4">i</tspan><tspan class="sub" x="66.4" dy="22">12</tspan><tspan class="cap" x="117.6" dy="-22">P</tspan><tspan class="sub" x="161.3" dy="22">5</tspan></text>
<text class="lg" transform="translate(248.0,207.5)"><tspan class="cap">N</tspan><tspan x="48.4">i</tspan><tspan class="sub" x="66.8" dy="22">12</tspan><tspan class="cap" x="116.8" dy="-22">P</tspan><tspan class="sub" x="161.9" dy="22">5</tspan><tspan class="us" x="188.4" dy="-18.8">_</tspan><tspan class="lc" x="223.0" dy="-3.2">cellulose</tspan><tspan class="us" x="510.1" dy="3.2">_</tspan><tspan class="dg" x="546.0" dy="-3.2">100:1</tspan></text>
</g>
</g>
</svg>
</body>
</html>
